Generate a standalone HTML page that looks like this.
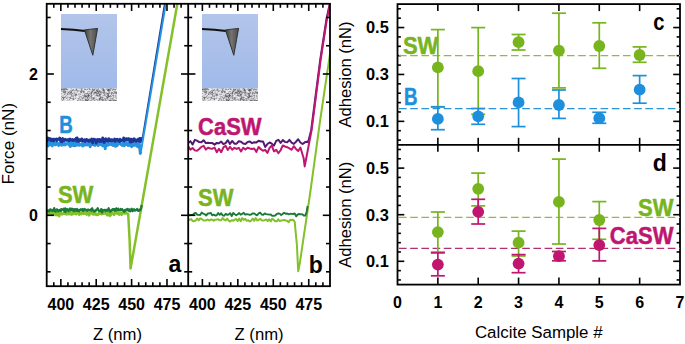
<!DOCTYPE html>
<html><head><meta charset="utf-8"><style>
html,body{margin:0;padding:0;background:#fff;}
body{width:685px;height:344px;position:relative;overflow:hidden;font-family:"Liberation Sans",sans-serif;}
</style></head><body>
<svg width="685" height="344" viewBox="0 0 685 344" style="position:absolute;left:0;top:0" font-family="Liberation Sans, sans-serif"><defs><linearGradient id="skyg" x1="0" y1="0" x2="0" y2="1"><stop offset="0" stop-color="#b3c5ea"/><stop offset="1" stop-color="#a0bae9"/></linearGradient><linearGradient id="tipg" x1="0" y1="0" x2="1" y2="0"><stop offset="0" stop-color="#3c3c3c"/><stop offset="0.45" stop-color="#76746f"/><stop offset="1" stop-color="#4a4a48"/></linearGradient><g id="tex"><rect x="0" y="0" width="1" height="1" fill="rgb(172,178,190)"/><rect x="1" y="0" width="1" height="1" fill="rgb(170,176,188)"/><rect x="2" y="0" width="1" height="1" fill="rgb(152,158,170)"/><rect x="3" y="0" width="1" height="1" fill="rgb(141,147,159)"/><rect x="4" y="0" width="1" height="1" fill="rgb(142,148,160)"/><rect x="5" y="0" width="1" height="1" fill="rgb(156,162,174)"/><rect x="6" y="0" width="1" height="1" fill="rgb(207,213,225)"/><rect x="7" y="0" width="1" height="1" fill="rgb(211,217,229)"/><rect x="8" y="0" width="1" height="1" fill="rgb(220,226,238)"/><rect x="9" y="0" width="1" height="1" fill="rgb(201,207,219)"/><rect x="10" y="0" width="1" height="1" fill="rgb(182,188,200)"/><rect x="11" y="0" width="1" height="1" fill="rgb(216,222,234)"/><rect x="12" y="0" width="1" height="1" fill="rgb(214,220,232)"/><rect x="13" y="0" width="1" height="1" fill="rgb(207,213,225)"/><rect x="14" y="0" width="1" height="1" fill="rgb(206,212,224)"/><rect x="15" y="0" width="1" height="1" fill="rgb(178,184,196)"/><rect x="16" y="0" width="1" height="1" fill="rgb(201,207,219)"/><rect x="17" y="0" width="1" height="1" fill="rgb(191,197,209)"/><rect x="18" y="0" width="1" height="1" fill="rgb(195,201,213)"/><rect x="19" y="0" width="1" height="1" fill="rgb(186,192,204)"/><rect x="20" y="0" width="1" height="1" fill="rgb(158,164,176)"/><rect x="21" y="0" width="1" height="1" fill="rgb(169,175,187)"/><rect x="22" y="0" width="1" height="1" fill="rgb(212,218,230)"/><rect x="23" y="0" width="1" height="1" fill="rgb(177,183,195)"/><rect x="24" y="0" width="1" height="1" fill="rgb(202,208,220)"/><rect x="25" y="0" width="1" height="1" fill="rgb(213,219,231)"/><rect x="26" y="0" width="1" height="1" fill="rgb(195,201,213)"/><rect x="27" y="0" width="1" height="1" fill="rgb(182,188,200)"/><rect x="28" y="0" width="1" height="1" fill="rgb(160,166,178)"/><rect x="29" y="0" width="1" height="1" fill="rgb(205,211,223)"/><rect x="30" y="0" width="1" height="1" fill="rgb(217,223,235)"/><rect x="31" y="0" width="1" height="1" fill="rgb(171,177,189)"/><rect x="32" y="0" width="1" height="1" fill="rgb(204,210,222)"/><rect x="33" y="0" width="1" height="1" fill="rgb(193,199,211)"/><rect x="34" y="0" width="1" height="1" fill="rgb(174,180,192)"/><rect x="35" y="0" width="1" height="1" fill="rgb(194,200,212)"/><rect x="36" y="0" width="1" height="1" fill="rgb(193,199,211)"/><rect x="37" y="0" width="1" height="1" fill="rgb(173,179,191)"/><rect x="38" y="0" width="1" height="1" fill="rgb(213,219,231)"/><rect x="39" y="0" width="1" height="1" fill="rgb(198,204,216)"/><rect x="40" y="0" width="1" height="1" fill="rgb(191,197,209)"/><rect x="41" y="0" width="1" height="1" fill="rgb(141,147,159)"/><rect x="42" y="0" width="1" height="1" fill="rgb(162,168,180)"/><rect x="43" y="0" width="1" height="1" fill="rgb(215,221,233)"/><rect x="44" y="0" width="1" height="1" fill="rgb(213,219,231)"/><rect x="45" y="0" width="1" height="1" fill="rgb(191,197,209)"/><rect x="46" y="0" width="1" height="1" fill="rgb(173,179,191)"/><rect x="47" y="0" width="1" height="1" fill="rgb(192,198,210)"/><rect x="48" y="0" width="1" height="1" fill="rgb(189,195,207)"/><rect x="49" y="0" width="1" height="1" fill="rgb(153,159,171)"/><rect x="50" y="0" width="1" height="1" fill="rgb(159,165,177)"/><rect x="51" y="0" width="1" height="1" fill="rgb(195,201,213)"/><rect x="52" y="0" width="1" height="1" fill="rgb(172,178,190)"/><rect x="53" y="0" width="1" height="1" fill="rgb(203,209,221)"/><rect x="54" y="0" width="1" height="1" fill="rgb(212,218,230)"/><rect x="55" y="0" width="1" height="1" fill="rgb(189,195,207)"/><rect x="0" y="1" width="1" height="1" fill="rgb(97,97,101)"/><rect x="1" y="1" width="1" height="1" fill="rgb(126,126,130)"/><rect x="2" y="1" width="1" height="1" fill="rgb(123,123,127)"/><rect x="3" y="1" width="1" height="1" fill="rgb(126,126,130)"/><rect x="4" y="1" width="1" height="1" fill="rgb(135,135,139)"/><rect x="5" y="1" width="1" height="1" fill="rgb(137,137,141)"/><rect x="6" y="1" width="1" height="1" fill="rgb(135,135,139)"/><rect x="7" y="1" width="1" height="1" fill="rgb(217,217,221)"/><rect x="8" y="1" width="1" height="1" fill="rgb(238,238,242)"/><rect x="9" y="1" width="1" height="1" fill="rgb(222,222,226)"/><rect x="10" y="1" width="1" height="1" fill="rgb(213,213,217)"/><rect x="11" y="1" width="1" height="1" fill="rgb(198,198,202)"/><rect x="12" y="1" width="1" height="1" fill="rgb(162,162,166)"/><rect x="13" y="1" width="1" height="1" fill="rgb(228,228,232)"/><rect x="14" y="1" width="1" height="1" fill="rgb(191,191,195)"/><rect x="15" y="1" width="1" height="1" fill="rgb(136,136,140)"/><rect x="16" y="1" width="1" height="1" fill="rgb(207,207,211)"/><rect x="17" y="1" width="1" height="1" fill="rgb(231,231,235)"/><rect x="18" y="1" width="1" height="1" fill="rgb(223,223,227)"/><rect x="19" y="1" width="1" height="1" fill="rgb(221,221,225)"/><rect x="20" y="1" width="1" height="1" fill="rgb(136,136,140)"/><rect x="21" y="1" width="1" height="1" fill="rgb(210,210,214)"/><rect x="22" y="1" width="1" height="1" fill="rgb(221,221,225)"/><rect x="23" y="1" width="1" height="1" fill="rgb(153,153,157)"/><rect x="24" y="1" width="1" height="1" fill="rgb(151,151,155)"/><rect x="25" y="1" width="1" height="1" fill="rgb(182,182,186)"/><rect x="26" y="1" width="1" height="1" fill="rgb(160,160,164)"/><rect x="27" y="1" width="1" height="1" fill="rgb(225,225,229)"/><rect x="28" y="1" width="1" height="1" fill="rgb(135,135,139)"/><rect x="29" y="1" width="1" height="1" fill="rgb(184,184,188)"/><rect x="30" y="1" width="1" height="1" fill="rgb(210,210,214)"/><rect x="31" y="1" width="1" height="1" fill="rgb(138,138,142)"/><rect x="32" y="1" width="1" height="1" fill="rgb(139,139,143)"/><rect x="33" y="1" width="1" height="1" fill="rgb(118,118,122)"/><rect x="34" y="1" width="1" height="1" fill="rgb(213,213,217)"/><rect x="35" y="1" width="1" height="1" fill="rgb(172,172,176)"/><rect x="36" y="1" width="1" height="1" fill="rgb(171,171,175)"/><rect x="37" y="1" width="1" height="1" fill="rgb(166,166,170)"/><rect x="38" y="1" width="1" height="1" fill="rgb(220,220,224)"/><rect x="39" y="1" width="1" height="1" fill="rgb(236,236,240)"/><rect x="40" y="1" width="1" height="1" fill="rgb(193,193,197)"/><rect x="41" y="1" width="1" height="1" fill="rgb(175,175,179)"/><rect x="42" y="1" width="1" height="1" fill="rgb(105,105,109)"/><rect x="43" y="1" width="1" height="1" fill="rgb(185,185,189)"/><rect x="44" y="1" width="1" height="1" fill="rgb(209,209,213)"/><rect x="45" y="1" width="1" height="1" fill="rgb(178,178,182)"/><rect x="46" y="1" width="1" height="1" fill="rgb(155,155,159)"/><rect x="47" y="1" width="1" height="1" fill="rgb(90,90,94)"/><rect x="48" y="1" width="1" height="1" fill="rgb(117,117,121)"/><rect x="49" y="1" width="1" height="1" fill="rgb(168,168,172)"/><rect x="50" y="1" width="1" height="1" fill="rgb(205,205,209)"/><rect x="51" y="1" width="1" height="1" fill="rgb(165,165,169)"/><rect x="52" y="1" width="1" height="1" fill="rgb(143,143,147)"/><rect x="53" y="1" width="1" height="1" fill="rgb(149,149,153)"/><rect x="54" y="1" width="1" height="1" fill="rgb(139,139,143)"/><rect x="55" y="1" width="1" height="1" fill="rgb(216,216,220)"/><rect x="0" y="2" width="1" height="1" fill="rgb(192,192,196)"/><rect x="1" y="2" width="1" height="1" fill="rgb(185,185,189)"/><rect x="2" y="2" width="1" height="1" fill="rgb(171,171,175)"/><rect x="3" y="2" width="1" height="1" fill="rgb(165,165,169)"/><rect x="4" y="2" width="1" height="1" fill="rgb(201,201,205)"/><rect x="5" y="2" width="1" height="1" fill="rgb(219,219,223)"/><rect x="6" y="2" width="1" height="1" fill="rgb(213,213,217)"/><rect x="7" y="2" width="1" height="1" fill="rgb(229,229,233)"/><rect x="8" y="2" width="1" height="1" fill="rgb(217,217,221)"/><rect x="9" y="2" width="1" height="1" fill="rgb(175,175,179)"/><rect x="10" y="2" width="1" height="1" fill="rgb(167,167,171)"/><rect x="11" y="2" width="1" height="1" fill="rgb(121,121,125)"/><rect x="12" y="2" width="1" height="1" fill="rgb(175,175,179)"/><rect x="13" y="2" width="1" height="1" fill="rgb(188,188,192)"/><rect x="14" y="2" width="1" height="1" fill="rgb(175,175,179)"/><rect x="15" y="2" width="1" height="1" fill="rgb(151,151,155)"/><rect x="16" y="2" width="1" height="1" fill="rgb(166,166,170)"/><rect x="17" y="2" width="1" height="1" fill="rgb(185,185,189)"/><rect x="18" y="2" width="1" height="1" fill="rgb(190,190,194)"/><rect x="19" y="2" width="1" height="1" fill="rgb(197,197,201)"/><rect x="20" y="2" width="1" height="1" fill="rgb(141,141,145)"/><rect x="21" y="2" width="1" height="1" fill="rgb(168,168,172)"/><rect x="22" y="2" width="1" height="1" fill="rgb(205,205,209)"/><rect x="23" y="2" width="1" height="1" fill="rgb(213,213,217)"/><rect x="24" y="2" width="1" height="1" fill="rgb(231,231,235)"/><rect x="25" y="2" width="1" height="1" fill="rgb(219,219,223)"/><rect x="26" y="2" width="1" height="1" fill="rgb(235,235,239)"/><rect x="27" y="2" width="1" height="1" fill="rgb(227,227,231)"/><rect x="28" y="2" width="1" height="1" fill="rgb(229,229,233)"/><rect x="29" y="2" width="1" height="1" fill="rgb(217,217,221)"/><rect x="30" y="2" width="1" height="1" fill="rgb(201,201,205)"/><rect x="31" y="2" width="1" height="1" fill="rgb(154,154,158)"/><rect x="32" y="2" width="1" height="1" fill="rgb(129,129,133)"/><rect x="33" y="2" width="1" height="1" fill="rgb(170,170,174)"/><rect x="34" y="2" width="1" height="1" fill="rgb(217,217,221)"/><rect x="35" y="2" width="1" height="1" fill="rgb(127,127,131)"/><rect x="36" y="2" width="1" height="1" fill="rgb(126,126,130)"/><rect x="37" y="2" width="1" height="1" fill="rgb(165,165,169)"/><rect x="38" y="2" width="1" height="1" fill="rgb(163,163,167)"/><rect x="39" y="2" width="1" height="1" fill="rgb(192,192,196)"/><rect x="40" y="2" width="1" height="1" fill="rgb(222,222,226)"/><rect x="41" y="2" width="1" height="1" fill="rgb(167,167,171)"/><rect x="42" y="2" width="1" height="1" fill="rgb(95,95,99)"/><rect x="43" y="2" width="1" height="1" fill="rgb(139,139,143)"/><rect x="44" y="2" width="1" height="1" fill="rgb(226,226,230)"/><rect x="45" y="2" width="1" height="1" fill="rgb(229,229,233)"/><rect x="46" y="2" width="1" height="1" fill="rgb(123,123,127)"/><rect x="47" y="2" width="1" height="1" fill="rgb(89,89,93)"/><rect x="48" y="2" width="1" height="1" fill="rgb(124,124,128)"/><rect x="49" y="2" width="1" height="1" fill="rgb(162,162,166)"/><rect x="50" y="2" width="1" height="1" fill="rgb(225,225,229)"/><rect x="51" y="2" width="1" height="1" fill="rgb(168,168,172)"/><rect x="52" y="2" width="1" height="1" fill="rgb(213,213,217)"/><rect x="53" y="2" width="1" height="1" fill="rgb(214,214,218)"/><rect x="54" y="2" width="1" height="1" fill="rgb(201,201,205)"/><rect x="55" y="2" width="1" height="1" fill="rgb(234,234,238)"/><rect x="0" y="3" width="1" height="1" fill="rgb(182,182,186)"/><rect x="1" y="3" width="1" height="1" fill="rgb(178,178,182)"/><rect x="2" y="3" width="1" height="1" fill="rgb(138,138,142)"/><rect x="3" y="3" width="1" height="1" fill="rgb(143,143,147)"/><rect x="4" y="3" width="1" height="1" fill="rgb(121,121,125)"/><rect x="5" y="3" width="1" height="1" fill="rgb(206,206,210)"/><rect x="6" y="3" width="1" height="1" fill="rgb(203,203,207)"/><rect x="7" y="3" width="1" height="1" fill="rgb(203,203,207)"/><rect x="8" y="3" width="1" height="1" fill="rgb(158,158,162)"/><rect x="9" y="3" width="1" height="1" fill="rgb(182,182,186)"/><rect x="10" y="3" width="1" height="1" fill="rgb(136,136,140)"/><rect x="11" y="3" width="1" height="1" fill="rgb(222,222,226)"/><rect x="12" y="3" width="1" height="1" fill="rgb(220,220,224)"/><rect x="13" y="3" width="1" height="1" fill="rgb(202,202,206)"/><rect x="14" y="3" width="1" height="1" fill="rgb(227,227,231)"/><rect x="15" y="3" width="1" height="1" fill="rgb(216,216,220)"/><rect x="16" y="3" width="1" height="1" fill="rgb(149,149,153)"/><rect x="17" y="3" width="1" height="1" fill="rgb(205,205,209)"/><rect x="18" y="3" width="1" height="1" fill="rgb(218,218,222)"/><rect x="19" y="3" width="1" height="1" fill="rgb(133,133,137)"/><rect x="20" y="3" width="1" height="1" fill="rgb(148,148,152)"/><rect x="21" y="3" width="1" height="1" fill="rgb(153,153,157)"/><rect x="22" y="3" width="1" height="1" fill="rgb(122,122,126)"/><rect x="23" y="3" width="1" height="1" fill="rgb(166,166,170)"/><rect x="24" y="3" width="1" height="1" fill="rgb(232,232,236)"/><rect x="25" y="3" width="1" height="1" fill="rgb(242,242,246)"/><rect x="26" y="3" width="1" height="1" fill="rgb(206,206,210)"/><rect x="27" y="3" width="1" height="1" fill="rgb(178,178,182)"/><rect x="28" y="3" width="1" height="1" fill="rgb(174,174,178)"/><rect x="29" y="3" width="1" height="1" fill="rgb(220,220,224)"/><rect x="30" y="3" width="1" height="1" fill="rgb(161,161,165)"/><rect x="31" y="3" width="1" height="1" fill="rgb(117,117,121)"/><rect x="32" y="3" width="1" height="1" fill="rgb(201,201,205)"/><rect x="33" y="3" width="1" height="1" fill="rgb(202,202,206)"/><rect x="34" y="3" width="1" height="1" fill="rgb(182,182,186)"/><rect x="35" y="3" width="1" height="1" fill="rgb(151,151,155)"/><rect x="36" y="3" width="1" height="1" fill="rgb(97,97,101)"/><rect x="37" y="3" width="1" height="1" fill="rgb(143,143,147)"/><rect x="38" y="3" width="1" height="1" fill="rgb(110,110,114)"/><rect x="39" y="3" width="1" height="1" fill="rgb(148,148,152)"/><rect x="40" y="3" width="1" height="1" fill="rgb(185,185,189)"/><rect x="41" y="3" width="1" height="1" fill="rgb(199,199,203)"/><rect x="42" y="3" width="1" height="1" fill="rgb(176,176,180)"/><rect x="43" y="3" width="1" height="1" fill="rgb(138,138,142)"/><rect x="44" y="3" width="1" height="1" fill="rgb(224,224,228)"/><rect x="45" y="3" width="1" height="1" fill="rgb(236,236,240)"/><rect x="46" y="3" width="1" height="1" fill="rgb(219,219,223)"/><rect x="47" y="3" width="1" height="1" fill="rgb(157,157,161)"/><rect x="48" y="3" width="1" height="1" fill="rgb(187,187,191)"/><rect x="49" y="3" width="1" height="1" fill="rgb(217,217,221)"/><rect x="50" y="3" width="1" height="1" fill="rgb(213,213,217)"/><rect x="51" y="3" width="1" height="1" fill="rgb(226,226,230)"/><rect x="52" y="3" width="1" height="1" fill="rgb(201,201,205)"/><rect x="53" y="3" width="1" height="1" fill="rgb(153,153,157)"/><rect x="54" y="3" width="1" height="1" fill="rgb(186,186,190)"/><rect x="55" y="3" width="1" height="1" fill="rgb(199,199,203)"/><rect x="0" y="4" width="1" height="1" fill="rgb(229,229,233)"/><rect x="1" y="4" width="1" height="1" fill="rgb(227,227,231)"/><rect x="2" y="4" width="1" height="1" fill="rgb(140,140,144)"/><rect x="3" y="4" width="1" height="1" fill="rgb(131,131,135)"/><rect x="4" y="4" width="1" height="1" fill="rgb(131,131,135)"/><rect x="5" y="4" width="1" height="1" fill="rgb(218,218,222)"/><rect x="6" y="4" width="1" height="1" fill="rgb(200,200,204)"/><rect x="7" y="4" width="1" height="1" fill="rgb(128,128,132)"/><rect x="8" y="4" width="1" height="1" fill="rgb(172,172,176)"/><rect x="9" y="4" width="1" height="1" fill="rgb(111,111,115)"/><rect x="10" y="4" width="1" height="1" fill="rgb(116,116,120)"/><rect x="11" y="4" width="1" height="1" fill="rgb(228,228,232)"/><rect x="12" y="4" width="1" height="1" fill="rgb(205,205,209)"/><rect x="13" y="4" width="1" height="1" fill="rgb(186,186,190)"/><rect x="14" y="4" width="1" height="1" fill="rgb(214,214,218)"/><rect x="15" y="4" width="1" height="1" fill="rgb(215,215,219)"/><rect x="16" y="4" width="1" height="1" fill="rgb(213,213,217)"/><rect x="17" y="4" width="1" height="1" fill="rgb(227,227,231)"/><rect x="18" y="4" width="1" height="1" fill="rgb(234,234,238)"/><rect x="19" y="4" width="1" height="1" fill="rgb(156,156,160)"/><rect x="20" y="4" width="1" height="1" fill="rgb(122,122,126)"/><rect x="21" y="4" width="1" height="1" fill="rgb(219,219,223)"/><rect x="22" y="4" width="1" height="1" fill="rgb(139,139,143)"/><rect x="23" y="4" width="1" height="1" fill="rgb(177,177,181)"/><rect x="24" y="4" width="1" height="1" fill="rgb(234,234,238)"/><rect x="25" y="4" width="1" height="1" fill="rgb(231,231,235)"/><rect x="26" y="4" width="1" height="1" fill="rgb(188,188,192)"/><rect x="27" y="4" width="1" height="1" fill="rgb(218,218,222)"/><rect x="28" y="4" width="1" height="1" fill="rgb(207,207,211)"/><rect x="29" y="4" width="1" height="1" fill="rgb(197,197,201)"/><rect x="30" y="4" width="1" height="1" fill="rgb(107,107,111)"/><rect x="31" y="4" width="1" height="1" fill="rgb(175,175,179)"/><rect x="32" y="4" width="1" height="1" fill="rgb(202,202,206)"/><rect x="33" y="4" width="1" height="1" fill="rgb(118,118,122)"/><rect x="34" y="4" width="1" height="1" fill="rgb(96,96,100)"/><rect x="35" y="4" width="1" height="1" fill="rgb(134,134,138)"/><rect x="36" y="4" width="1" height="1" fill="rgb(192,192,196)"/><rect x="37" y="4" width="1" height="1" fill="rgb(114,114,118)"/><rect x="38" y="4" width="1" height="1" fill="rgb(167,167,171)"/><rect x="39" y="4" width="1" height="1" fill="rgb(136,136,140)"/><rect x="40" y="4" width="1" height="1" fill="rgb(150,150,154)"/><rect x="41" y="4" width="1" height="1" fill="rgb(165,165,169)"/><rect x="42" y="4" width="1" height="1" fill="rgb(135,135,139)"/><rect x="43" y="4" width="1" height="1" fill="rgb(128,128,132)"/><rect x="44" y="4" width="1" height="1" fill="rgb(189,189,193)"/><rect x="45" y="4" width="1" height="1" fill="rgb(201,201,205)"/><rect x="46" y="4" width="1" height="1" fill="rgb(224,224,228)"/><rect x="47" y="4" width="1" height="1" fill="rgb(189,189,193)"/><rect x="48" y="4" width="1" height="1" fill="rgb(141,141,145)"/><rect x="49" y="4" width="1" height="1" fill="rgb(212,212,216)"/><rect x="50" y="4" width="1" height="1" fill="rgb(156,156,160)"/><rect x="51" y="4" width="1" height="1" fill="rgb(148,148,152)"/><rect x="52" y="4" width="1" height="1" fill="rgb(204,204,208)"/><rect x="53" y="4" width="1" height="1" fill="rgb(138,138,142)"/><rect x="54" y="4" width="1" height="1" fill="rgb(134,134,138)"/><rect x="55" y="4" width="1" height="1" fill="rgb(115,115,119)"/><rect x="0" y="5" width="1" height="1" fill="rgb(167,167,171)"/><rect x="1" y="5" width="1" height="1" fill="rgb(217,217,221)"/><rect x="2" y="5" width="1" height="1" fill="rgb(218,218,222)"/><rect x="3" y="5" width="1" height="1" fill="rgb(187,187,191)"/><rect x="4" y="5" width="1" height="1" fill="rgb(172,172,176)"/><rect x="5" y="5" width="1" height="1" fill="rgb(212,212,216)"/><rect x="6" y="5" width="1" height="1" fill="rgb(142,142,146)"/><rect x="7" y="5" width="1" height="1" fill="rgb(186,186,190)"/><rect x="8" y="5" width="1" height="1" fill="rgb(147,147,151)"/><rect x="9" y="5" width="1" height="1" fill="rgb(181,181,185)"/><rect x="10" y="5" width="1" height="1" fill="rgb(164,164,168)"/><rect x="11" y="5" width="1" height="1" fill="rgb(146,146,150)"/><rect x="12" y="5" width="1" height="1" fill="rgb(191,191,195)"/><rect x="13" y="5" width="1" height="1" fill="rgb(174,174,178)"/><rect x="14" y="5" width="1" height="1" fill="rgb(194,194,198)"/><rect x="15" y="5" width="1" height="1" fill="rgb(197,197,201)"/><rect x="16" y="5" width="1" height="1" fill="rgb(232,232,236)"/><rect x="17" y="5" width="1" height="1" fill="rgb(203,203,207)"/><rect x="18" y="5" width="1" height="1" fill="rgb(199,199,203)"/><rect x="19" y="5" width="1" height="1" fill="rgb(205,205,209)"/><rect x="20" y="5" width="1" height="1" fill="rgb(221,221,225)"/><rect x="21" y="5" width="1" height="1" fill="rgb(221,221,225)"/><rect x="22" y="5" width="1" height="1" fill="rgb(217,217,221)"/><rect x="23" y="5" width="1" height="1" fill="rgb(200,200,204)"/><rect x="24" y="5" width="1" height="1" fill="rgb(158,158,162)"/><rect x="25" y="5" width="1" height="1" fill="rgb(140,140,144)"/><rect x="26" y="5" width="1" height="1" fill="rgb(131,131,135)"/><rect x="27" y="5" width="1" height="1" fill="rgb(186,186,190)"/><rect x="28" y="5" width="1" height="1" fill="rgb(148,148,152)"/><rect x="29" y="5" width="1" height="1" fill="rgb(161,161,165)"/><rect x="30" y="5" width="1" height="1" fill="rgb(111,111,115)"/><rect x="31" y="5" width="1" height="1" fill="rgb(214,214,218)"/><rect x="32" y="5" width="1" height="1" fill="rgb(160,160,164)"/><rect x="33" y="5" width="1" height="1" fill="rgb(160,160,164)"/><rect x="34" y="5" width="1" height="1" fill="rgb(168,168,172)"/><rect x="35" y="5" width="1" height="1" fill="rgb(139,139,143)"/><rect x="36" y="5" width="1" height="1" fill="rgb(130,130,134)"/><rect x="37" y="5" width="1" height="1" fill="rgb(132,132,136)"/><rect x="38" y="5" width="1" height="1" fill="rgb(183,183,187)"/><rect x="39" y="5" width="1" height="1" fill="rgb(181,181,185)"/><rect x="40" y="5" width="1" height="1" fill="rgb(174,174,178)"/><rect x="41" y="5" width="1" height="1" fill="rgb(225,225,229)"/><rect x="42" y="5" width="1" height="1" fill="rgb(149,149,153)"/><rect x="43" y="5" width="1" height="1" fill="rgb(161,161,165)"/><rect x="44" y="5" width="1" height="1" fill="rgb(187,187,191)"/><rect x="45" y="5" width="1" height="1" fill="rgb(163,163,167)"/><rect x="46" y="5" width="1" height="1" fill="rgb(112,112,116)"/><rect x="47" y="5" width="1" height="1" fill="rgb(126,126,130)"/><rect x="48" y="5" width="1" height="1" fill="rgb(169,169,173)"/><rect x="49" y="5" width="1" height="1" fill="rgb(213,213,217)"/><rect x="50" y="5" width="1" height="1" fill="rgb(123,123,127)"/><rect x="51" y="5" width="1" height="1" fill="rgb(182,182,186)"/><rect x="52" y="5" width="1" height="1" fill="rgb(144,144,148)"/><rect x="53" y="5" width="1" height="1" fill="rgb(182,182,186)"/><rect x="54" y="5" width="1" height="1" fill="rgb(156,156,160)"/><rect x="55" y="5" width="1" height="1" fill="rgb(131,131,135)"/><rect x="0" y="6" width="1" height="1" fill="rgb(224,224,228)"/><rect x="1" y="6" width="1" height="1" fill="rgb(236,236,240)"/><rect x="2" y="6" width="1" height="1" fill="rgb(213,213,217)"/><rect x="3" y="6" width="1" height="1" fill="rgb(152,152,156)"/><rect x="4" y="6" width="1" height="1" fill="rgb(216,216,220)"/><rect x="5" y="6" width="1" height="1" fill="rgb(222,222,226)"/><rect x="6" y="6" width="1" height="1" fill="rgb(137,137,141)"/><rect x="7" y="6" width="1" height="1" fill="rgb(185,185,189)"/><rect x="8" y="6" width="1" height="1" fill="rgb(193,193,197)"/><rect x="9" y="6" width="1" height="1" fill="rgb(164,164,168)"/><rect x="10" y="6" width="1" height="1" fill="rgb(140,140,144)"/><rect x="11" y="6" width="1" height="1" fill="rgb(206,206,210)"/><rect x="12" y="6" width="1" height="1" fill="rgb(217,217,221)"/><rect x="13" y="6" width="1" height="1" fill="rgb(187,187,191)"/><rect x="14" y="6" width="1" height="1" fill="rgb(119,119,123)"/><rect x="15" y="6" width="1" height="1" fill="rgb(124,124,128)"/><rect x="16" y="6" width="1" height="1" fill="rgb(218,218,222)"/><rect x="17" y="6" width="1" height="1" fill="rgb(183,183,187)"/><rect x="18" y="6" width="1" height="1" fill="rgb(193,193,197)"/><rect x="19" y="6" width="1" height="1" fill="rgb(165,165,169)"/><rect x="20" y="6" width="1" height="1" fill="rgb(221,221,225)"/><rect x="21" y="6" width="1" height="1" fill="rgb(225,225,229)"/><rect x="22" y="6" width="1" height="1" fill="rgb(230,230,234)"/><rect x="23" y="6" width="1" height="1" fill="rgb(144,144,148)"/><rect x="24" y="6" width="1" height="1" fill="rgb(204,204,208)"/><rect x="25" y="6" width="1" height="1" fill="rgb(202,202,206)"/><rect x="26" y="6" width="1" height="1" fill="rgb(190,190,194)"/><rect x="27" y="6" width="1" height="1" fill="rgb(111,111,115)"/><rect x="28" y="6" width="1" height="1" fill="rgb(209,209,213)"/><rect x="29" y="6" width="1" height="1" fill="rgb(194,194,198)"/><rect x="30" y="6" width="1" height="1" fill="rgb(157,157,161)"/><rect x="31" y="6" width="1" height="1" fill="rgb(216,216,220)"/><rect x="32" y="6" width="1" height="1" fill="rgb(188,188,192)"/><rect x="33" y="6" width="1" height="1" fill="rgb(201,201,205)"/><rect x="34" y="6" width="1" height="1" fill="rgb(226,226,230)"/><rect x="35" y="6" width="1" height="1" fill="rgb(161,161,165)"/><rect x="36" y="6" width="1" height="1" fill="rgb(181,181,185)"/><rect x="37" y="6" width="1" height="1" fill="rgb(196,196,200)"/><rect x="38" y="6" width="1" height="1" fill="rgb(105,105,109)"/><rect x="39" y="6" width="1" height="1" fill="rgb(130,130,134)"/><rect x="40" y="6" width="1" height="1" fill="rgb(199,199,203)"/><rect x="41" y="6" width="1" height="1" fill="rgb(220,220,224)"/><rect x="42" y="6" width="1" height="1" fill="rgb(226,226,230)"/><rect x="43" y="6" width="1" height="1" fill="rgb(155,155,159)"/><rect x="44" y="6" width="1" height="1" fill="rgb(205,205,209)"/><rect x="45" y="6" width="1" height="1" fill="rgb(185,185,189)"/><rect x="46" y="6" width="1" height="1" fill="rgb(141,141,145)"/><rect x="47" y="6" width="1" height="1" fill="rgb(129,129,133)"/><rect x="48" y="6" width="1" height="1" fill="rgb(220,220,224)"/><rect x="49" y="6" width="1" height="1" fill="rgb(228,228,232)"/><rect x="50" y="6" width="1" height="1" fill="rgb(162,162,166)"/><rect x="51" y="6" width="1" height="1" fill="rgb(218,218,222)"/><rect x="52" y="6" width="1" height="1" fill="rgb(198,198,202)"/><rect x="53" y="6" width="1" height="1" fill="rgb(230,230,234)"/><rect x="54" y="6" width="1" height="1" fill="rgb(221,221,225)"/><rect x="55" y="6" width="1" height="1" fill="rgb(211,211,215)"/><rect x="0" y="7" width="1" height="1" fill="rgb(220,220,224)"/><rect x="1" y="7" width="1" height="1" fill="rgb(198,198,202)"/><rect x="2" y="7" width="1" height="1" fill="rgb(203,203,207)"/><rect x="3" y="7" width="1" height="1" fill="rgb(228,228,232)"/><rect x="4" y="7" width="1" height="1" fill="rgb(208,208,212)"/><rect x="5" y="7" width="1" height="1" fill="rgb(174,174,178)"/><rect x="6" y="7" width="1" height="1" fill="rgb(225,225,229)"/><rect x="7" y="7" width="1" height="1" fill="rgb(223,223,227)"/><rect x="8" y="7" width="1" height="1" fill="rgb(220,220,224)"/><rect x="9" y="7" width="1" height="1" fill="rgb(230,230,234)"/><rect x="10" y="7" width="1" height="1" fill="rgb(151,151,155)"/><rect x="11" y="7" width="1" height="1" fill="rgb(187,187,191)"/><rect x="12" y="7" width="1" height="1" fill="rgb(175,175,179)"/><rect x="13" y="7" width="1" height="1" fill="rgb(177,177,181)"/><rect x="14" y="7" width="1" height="1" fill="rgb(136,136,140)"/><rect x="15" y="7" width="1" height="1" fill="rgb(163,163,167)"/><rect x="16" y="7" width="1" height="1" fill="rgb(212,212,216)"/><rect x="17" y="7" width="1" height="1" fill="rgb(228,228,232)"/><rect x="18" y="7" width="1" height="1" fill="rgb(203,203,207)"/><rect x="19" y="7" width="1" height="1" fill="rgb(232,232,236)"/><rect x="20" y="7" width="1" height="1" fill="rgb(231,231,235)"/><rect x="21" y="7" width="1" height="1" fill="rgb(173,173,177)"/><rect x="22" y="7" width="1" height="1" fill="rgb(182,182,186)"/><rect x="23" y="7" width="1" height="1" fill="rgb(128,128,132)"/><rect x="24" y="7" width="1" height="1" fill="rgb(131,131,135)"/><rect x="25" y="7" width="1" height="1" fill="rgb(168,168,172)"/><rect x="26" y="7" width="1" height="1" fill="rgb(135,135,139)"/><rect x="27" y="7" width="1" height="1" fill="rgb(89,89,93)"/><rect x="28" y="7" width="1" height="1" fill="rgb(121,121,125)"/><rect x="29" y="7" width="1" height="1" fill="rgb(200,200,204)"/><rect x="30" y="7" width="1" height="1" fill="rgb(133,133,137)"/><rect x="31" y="7" width="1" height="1" fill="rgb(201,201,205)"/><rect x="32" y="7" width="1" height="1" fill="rgb(230,230,234)"/><rect x="33" y="7" width="1" height="1" fill="rgb(213,213,217)"/><rect x="34" y="7" width="1" height="1" fill="rgb(189,189,193)"/><rect x="35" y="7" width="1" height="1" fill="rgb(133,133,137)"/><rect x="36" y="7" width="1" height="1" fill="rgb(122,122,126)"/><rect x="37" y="7" width="1" height="1" fill="rgb(160,160,164)"/><rect x="38" y="7" width="1" height="1" fill="rgb(122,122,126)"/><rect x="39" y="7" width="1" height="1" fill="rgb(169,169,173)"/><rect x="40" y="7" width="1" height="1" fill="rgb(228,228,232)"/><rect x="41" y="7" width="1" height="1" fill="rgb(211,211,215)"/><rect x="42" y="7" width="1" height="1" fill="rgb(177,177,181)"/><rect x="43" y="7" width="1" height="1" fill="rgb(155,155,159)"/><rect x="44" y="7" width="1" height="1" fill="rgb(169,169,173)"/><rect x="45" y="7" width="1" height="1" fill="rgb(225,225,229)"/><rect x="46" y="7" width="1" height="1" fill="rgb(146,146,150)"/><rect x="47" y="7" width="1" height="1" fill="rgb(96,96,100)"/><rect x="48" y="7" width="1" height="1" fill="rgb(198,198,202)"/><rect x="49" y="7" width="1" height="1" fill="rgb(165,165,169)"/><rect x="50" y="7" width="1" height="1" fill="rgb(209,209,213)"/><rect x="51" y="7" width="1" height="1" fill="rgb(159,159,163)"/><rect x="52" y="7" width="1" height="1" fill="rgb(144,144,148)"/><rect x="53" y="7" width="1" height="1" fill="rgb(218,218,222)"/><rect x="54" y="7" width="1" height="1" fill="rgb(167,167,171)"/><rect x="55" y="7" width="1" height="1" fill="rgb(203,203,207)"/><rect x="0" y="8" width="1" height="1" fill="rgb(167,167,171)"/><rect x="1" y="8" width="1" height="1" fill="rgb(207,207,211)"/><rect x="2" y="8" width="1" height="1" fill="rgb(201,201,205)"/><rect x="3" y="8" width="1" height="1" fill="rgb(216,216,220)"/><rect x="4" y="8" width="1" height="1" fill="rgb(156,156,160)"/><rect x="5" y="8" width="1" height="1" fill="rgb(214,214,218)"/><rect x="6" y="8" width="1" height="1" fill="rgb(213,213,217)"/><rect x="7" y="8" width="1" height="1" fill="rgb(213,213,217)"/><rect x="8" y="8" width="1" height="1" fill="rgb(218,218,222)"/><rect x="9" y="8" width="1" height="1" fill="rgb(216,216,220)"/><rect x="10" y="8" width="1" height="1" fill="rgb(165,165,169)"/><rect x="11" y="8" width="1" height="1" fill="rgb(174,174,178)"/><rect x="12" y="8" width="1" height="1" fill="rgb(162,162,166)"/><rect x="13" y="8" width="1" height="1" fill="rgb(221,221,225)"/><rect x="14" y="8" width="1" height="1" fill="rgb(195,195,199)"/><rect x="15" y="8" width="1" height="1" fill="rgb(232,232,236)"/><rect x="16" y="8" width="1" height="1" fill="rgb(239,239,243)"/><rect x="17" y="8" width="1" height="1" fill="rgb(216,216,220)"/><rect x="18" y="8" width="1" height="1" fill="rgb(185,185,189)"/><rect x="19" y="8" width="1" height="1" fill="rgb(171,171,175)"/><rect x="20" y="8" width="1" height="1" fill="rgb(190,190,194)"/><rect x="21" y="8" width="1" height="1" fill="rgb(223,223,227)"/><rect x="22" y="8" width="1" height="1" fill="rgb(191,191,195)"/><rect x="23" y="8" width="1" height="1" fill="rgb(133,133,137)"/><rect x="24" y="8" width="1" height="1" fill="rgb(94,94,98)"/><rect x="25" y="8" width="1" height="1" fill="rgb(106,106,110)"/><rect x="26" y="8" width="1" height="1" fill="rgb(151,151,155)"/><rect x="27" y="8" width="1" height="1" fill="rgb(104,104,108)"/><rect x="28" y="8" width="1" height="1" fill="rgb(193,193,197)"/><rect x="29" y="8" width="1" height="1" fill="rgb(164,164,168)"/><rect x="30" y="8" width="1" height="1" fill="rgb(147,147,151)"/><rect x="31" y="8" width="1" height="1" fill="rgb(230,230,234)"/><rect x="32" y="8" width="1" height="1" fill="rgb(234,234,238)"/><rect x="33" y="8" width="1" height="1" fill="rgb(216,216,220)"/><rect x="34" y="8" width="1" height="1" fill="rgb(220,220,224)"/><rect x="35" y="8" width="1" height="1" fill="rgb(217,217,221)"/><rect x="36" y="8" width="1" height="1" fill="rgb(180,180,184)"/><rect x="37" y="8" width="1" height="1" fill="rgb(172,172,176)"/><rect x="38" y="8" width="1" height="1" fill="rgb(179,179,183)"/><rect x="39" y="8" width="1" height="1" fill="rgb(155,155,159)"/><rect x="40" y="8" width="1" height="1" fill="rgb(201,201,205)"/><rect x="41" y="8" width="1" height="1" fill="rgb(203,203,207)"/><rect x="42" y="8" width="1" height="1" fill="rgb(222,222,226)"/><rect x="43" y="8" width="1" height="1" fill="rgb(221,221,225)"/><rect x="44" y="8" width="1" height="1" fill="rgb(196,196,200)"/><rect x="45" y="8" width="1" height="1" fill="rgb(147,147,151)"/><rect x="46" y="8" width="1" height="1" fill="rgb(154,154,158)"/><rect x="47" y="8" width="1" height="1" fill="rgb(97,97,101)"/><rect x="48" y="8" width="1" height="1" fill="rgb(111,111,115)"/><rect x="49" y="8" width="1" height="1" fill="rgb(145,145,149)"/><rect x="50" y="8" width="1" height="1" fill="rgb(166,166,170)"/><rect x="51" y="8" width="1" height="1" fill="rgb(226,226,230)"/><rect x="52" y="8" width="1" height="1" fill="rgb(171,171,175)"/><rect x="53" y="8" width="1" height="1" fill="rgb(225,225,229)"/><rect x="54" y="8" width="1" height="1" fill="rgb(165,165,169)"/><rect x="55" y="8" width="1" height="1" fill="rgb(198,198,202)"/><rect x="0" y="9" width="1" height="1" fill="rgb(209,209,213)"/><rect x="1" y="9" width="1" height="1" fill="rgb(128,128,132)"/><rect x="2" y="9" width="1" height="1" fill="rgb(131,131,135)"/><rect x="3" y="9" width="1" height="1" fill="rgb(128,128,132)"/><rect x="4" y="9" width="1" height="1" fill="rgb(172,172,176)"/><rect x="5" y="9" width="1" height="1" fill="rgb(198,198,202)"/><rect x="6" y="9" width="1" height="1" fill="rgb(174,174,178)"/><rect x="7" y="9" width="1" height="1" fill="rgb(200,200,204)"/><rect x="8" y="9" width="1" height="1" fill="rgb(161,161,165)"/><rect x="9" y="9" width="1" height="1" fill="rgb(123,123,127)"/><rect x="10" y="9" width="1" height="1" fill="rgb(219,219,223)"/><rect x="11" y="9" width="1" height="1" fill="rgb(216,216,220)"/><rect x="12" y="9" width="1" height="1" fill="rgb(198,198,202)"/><rect x="13" y="9" width="1" height="1" fill="rgb(231,231,235)"/><rect x="14" y="9" width="1" height="1" fill="rgb(211,211,215)"/><rect x="15" y="9" width="1" height="1" fill="rgb(213,213,217)"/><rect x="16" y="9" width="1" height="1" fill="rgb(233,233,237)"/><rect x="17" y="9" width="1" height="1" fill="rgb(230,230,234)"/><rect x="18" y="9" width="1" height="1" fill="rgb(177,177,181)"/><rect x="19" y="9" width="1" height="1" fill="rgb(208,208,212)"/><rect x="20" y="9" width="1" height="1" fill="rgb(169,169,173)"/><rect x="21" y="9" width="1" height="1" fill="rgb(186,186,190)"/><rect x="22" y="9" width="1" height="1" fill="rgb(137,137,141)"/><rect x="23" y="9" width="1" height="1" fill="rgb(193,193,197)"/><rect x="24" y="9" width="1" height="1" fill="rgb(174,174,178)"/><rect x="25" y="9" width="1" height="1" fill="rgb(191,191,195)"/><rect x="26" y="9" width="1" height="1" fill="rgb(120,120,124)"/><rect x="27" y="9" width="1" height="1" fill="rgb(193,193,197)"/><rect x="28" y="9" width="1" height="1" fill="rgb(172,172,176)"/><rect x="29" y="9" width="1" height="1" fill="rgb(192,192,196)"/><rect x="30" y="9" width="1" height="1" fill="rgb(156,156,160)"/><rect x="31" y="9" width="1" height="1" fill="rgb(171,171,175)"/><rect x="32" y="9" width="1" height="1" fill="rgb(152,152,156)"/><rect x="33" y="9" width="1" height="1" fill="rgb(170,170,174)"/><rect x="34" y="9" width="1" height="1" fill="rgb(206,206,210)"/><rect x="35" y="9" width="1" height="1" fill="rgb(216,216,220)"/><rect x="36" y="9" width="1" height="1" fill="rgb(232,232,236)"/><rect x="37" y="9" width="1" height="1" fill="rgb(230,230,234)"/><rect x="38" y="9" width="1" height="1" fill="rgb(209,209,213)"/><rect x="39" y="9" width="1" height="1" fill="rgb(113,113,117)"/><rect x="40" y="9" width="1" height="1" fill="rgb(147,147,151)"/><rect x="41" y="9" width="1" height="1" fill="rgb(139,139,143)"/><rect x="42" y="9" width="1" height="1" fill="rgb(187,187,191)"/><rect x="43" y="9" width="1" height="1" fill="rgb(226,226,230)"/><rect x="44" y="9" width="1" height="1" fill="rgb(230,230,234)"/><rect x="45" y="9" width="1" height="1" fill="rgb(167,167,171)"/><rect x="46" y="9" width="1" height="1" fill="rgb(97,97,101)"/><rect x="47" y="9" width="1" height="1" fill="rgb(137,137,141)"/><rect x="48" y="9" width="1" height="1" fill="rgb(217,217,221)"/><rect x="49" y="9" width="1" height="1" fill="rgb(200,200,204)"/><rect x="50" y="9" width="1" height="1" fill="rgb(220,220,224)"/><rect x="51" y="9" width="1" height="1" fill="rgb(211,211,215)"/><rect x="52" y="9" width="1" height="1" fill="rgb(179,179,183)"/><rect x="53" y="9" width="1" height="1" fill="rgb(212,212,216)"/><rect x="54" y="9" width="1" height="1" fill="rgb(194,194,198)"/><rect x="55" y="9" width="1" height="1" fill="rgb(208,208,212)"/><rect x="0" y="10" width="1" height="1" fill="rgb(181,181,185)"/><rect x="1" y="10" width="1" height="1" fill="rgb(212,212,216)"/><rect x="2" y="10" width="1" height="1" fill="rgb(110,110,114)"/><rect x="3" y="10" width="1" height="1" fill="rgb(213,213,217)"/><rect x="4" y="10" width="1" height="1" fill="rgb(230,230,234)"/><rect x="5" y="10" width="1" height="1" fill="rgb(153,153,157)"/><rect x="6" y="10" width="1" height="1" fill="rgb(207,207,211)"/><rect x="7" y="10" width="1" height="1" fill="rgb(235,235,239)"/><rect x="8" y="10" width="1" height="1" fill="rgb(206,206,210)"/><rect x="9" y="10" width="1" height="1" fill="rgb(143,143,147)"/><rect x="10" y="10" width="1" height="1" fill="rgb(165,165,169)"/><rect x="11" y="10" width="1" height="1" fill="rgb(165,165,169)"/><rect x="12" y="10" width="1" height="1" fill="rgb(138,138,142)"/><rect x="13" y="10" width="1" height="1" fill="rgb(188,188,192)"/><rect x="14" y="10" width="1" height="1" fill="rgb(159,159,163)"/><rect x="15" y="10" width="1" height="1" fill="rgb(222,222,226)"/><rect x="16" y="10" width="1" height="1" fill="rgb(207,207,211)"/><rect x="17" y="10" width="1" height="1" fill="rgb(156,156,160)"/><rect x="18" y="10" width="1" height="1" fill="rgb(181,181,185)"/><rect x="19" y="10" width="1" height="1" fill="rgb(215,215,219)"/><rect x="20" y="10" width="1" height="1" fill="rgb(203,203,207)"/><rect x="21" y="10" width="1" height="1" fill="rgb(139,139,143)"/><rect x="22" y="10" width="1" height="1" fill="rgb(182,182,186)"/><rect x="23" y="10" width="1" height="1" fill="rgb(203,203,207)"/><rect x="24" y="10" width="1" height="1" fill="rgb(175,175,179)"/><rect x="25" y="10" width="1" height="1" fill="rgb(211,211,215)"/><rect x="26" y="10" width="1" height="1" fill="rgb(152,152,156)"/><rect x="27" y="10" width="1" height="1" fill="rgb(187,187,191)"/><rect x="28" y="10" width="1" height="1" fill="rgb(191,191,195)"/><rect x="29" y="10" width="1" height="1" fill="rgb(204,204,208)"/><rect x="30" y="10" width="1" height="1" fill="rgb(147,147,151)"/><rect x="31" y="10" width="1" height="1" fill="rgb(197,197,201)"/><rect x="32" y="10" width="1" height="1" fill="rgb(118,118,122)"/><rect x="33" y="10" width="1" height="1" fill="rgb(155,155,159)"/><rect x="34" y="10" width="1" height="1" fill="rgb(219,219,223)"/><rect x="35" y="10" width="1" height="1" fill="rgb(225,225,229)"/><rect x="36" y="10" width="1" height="1" fill="rgb(223,223,227)"/><rect x="37" y="10" width="1" height="1" fill="rgb(200,200,204)"/><rect x="38" y="10" width="1" height="1" fill="rgb(112,112,116)"/><rect x="39" y="10" width="1" height="1" fill="rgb(118,118,122)"/><rect x="40" y="10" width="1" height="1" fill="rgb(182,182,186)"/><rect x="41" y="10" width="1" height="1" fill="rgb(178,178,182)"/><rect x="42" y="10" width="1" height="1" fill="rgb(221,221,225)"/><rect x="43" y="10" width="1" height="1" fill="rgb(165,165,169)"/><rect x="44" y="10" width="1" height="1" fill="rgb(163,163,167)"/><rect x="45" y="10" width="1" height="1" fill="rgb(163,163,167)"/><rect x="46" y="10" width="1" height="1" fill="rgb(163,163,167)"/><rect x="47" y="10" width="1" height="1" fill="rgb(221,221,225)"/><rect x="48" y="10" width="1" height="1" fill="rgb(199,199,203)"/><rect x="49" y="10" width="1" height="1" fill="rgb(185,185,189)"/><rect x="50" y="10" width="1" height="1" fill="rgb(176,176,180)"/><rect x="51" y="10" width="1" height="1" fill="rgb(142,142,146)"/><rect x="52" y="10" width="1" height="1" fill="rgb(204,204,208)"/><rect x="53" y="10" width="1" height="1" fill="rgb(222,222,226)"/><rect x="54" y="10" width="1" height="1" fill="rgb(210,210,214)"/><rect x="55" y="10" width="1" height="1" fill="rgb(178,178,182)"/><rect x="0" y="11" width="1" height="1" fill="rgb(189,189,193)"/><rect x="1" y="11" width="1" height="1" fill="rgb(194,194,198)"/><rect x="2" y="11" width="1" height="1" fill="rgb(156,156,160)"/><rect x="3" y="11" width="1" height="1" fill="rgb(209,209,213)"/><rect x="4" y="11" width="1" height="1" fill="rgb(220,220,224)"/><rect x="5" y="11" width="1" height="1" fill="rgb(233,233,237)"/><rect x="6" y="11" width="1" height="1" fill="rgb(202,202,206)"/><rect x="7" y="11" width="1" height="1" fill="rgb(221,221,225)"/><rect x="8" y="11" width="1" height="1" fill="rgb(152,152,156)"/><rect x="9" y="11" width="1" height="1" fill="rgb(228,228,232)"/><rect x="10" y="11" width="1" height="1" fill="rgb(234,234,238)"/><rect x="11" y="11" width="1" height="1" fill="rgb(186,186,190)"/><rect x="12" y="11" width="1" height="1" fill="rgb(127,127,131)"/><rect x="13" y="11" width="1" height="1" fill="rgb(215,215,219)"/><rect x="14" y="11" width="1" height="1" fill="rgb(236,236,240)"/><rect x="15" y="11" width="1" height="1" fill="rgb(239,239,243)"/><rect x="16" y="11" width="1" height="1" fill="rgb(232,232,236)"/><rect x="17" y="11" width="1" height="1" fill="rgb(174,174,178)"/><rect x="18" y="11" width="1" height="1" fill="rgb(196,196,200)"/><rect x="19" y="11" width="1" height="1" fill="rgb(161,161,165)"/><rect x="20" y="11" width="1" height="1" fill="rgb(213,213,217)"/><rect x="21" y="11" width="1" height="1" fill="rgb(187,187,191)"/><rect x="22" y="11" width="1" height="1" fill="rgb(228,228,232)"/><rect x="23" y="11" width="1" height="1" fill="rgb(205,205,209)"/><rect x="24" y="11" width="1" height="1" fill="rgb(119,119,123)"/><rect x="25" y="11" width="1" height="1" fill="rgb(152,152,156)"/><rect x="26" y="11" width="1" height="1" fill="rgb(168,168,172)"/><rect x="27" y="11" width="1" height="1" fill="rgb(129,129,133)"/><rect x="28" y="11" width="1" height="1" fill="rgb(207,207,211)"/><rect x="29" y="11" width="1" height="1" fill="rgb(227,227,231)"/><rect x="30" y="11" width="1" height="1" fill="rgb(192,192,196)"/><rect x="31" y="11" width="1" height="1" fill="rgb(175,175,179)"/><rect x="32" y="11" width="1" height="1" fill="rgb(146,146,150)"/><rect x="33" y="11" width="1" height="1" fill="rgb(189,189,193)"/><rect x="34" y="11" width="1" height="1" fill="rgb(190,190,194)"/><rect x="35" y="11" width="1" height="1" fill="rgb(153,153,157)"/><rect x="36" y="11" width="1" height="1" fill="rgb(176,176,180)"/><rect x="37" y="11" width="1" height="1" fill="rgb(198,198,202)"/><rect x="38" y="11" width="1" height="1" fill="rgb(112,112,116)"/><rect x="39" y="11" width="1" height="1" fill="rgb(157,157,161)"/><rect x="40" y="11" width="1" height="1" fill="rgb(135,135,139)"/><rect x="41" y="11" width="1" height="1" fill="rgb(129,129,133)"/><rect x="42" y="11" width="1" height="1" fill="rgb(161,161,165)"/><rect x="43" y="11" width="1" height="1" fill="rgb(196,196,200)"/><rect x="44" y="11" width="1" height="1" fill="rgb(159,159,163)"/><rect x="45" y="11" width="1" height="1" fill="rgb(212,212,216)"/><rect x="46" y="11" width="1" height="1" fill="rgb(179,179,183)"/><rect x="47" y="11" width="1" height="1" fill="rgb(193,193,197)"/><rect x="48" y="11" width="1" height="1" fill="rgb(199,199,203)"/><rect x="49" y="11" width="1" height="1" fill="rgb(181,181,185)"/><rect x="50" y="11" width="1" height="1" fill="rgb(196,196,200)"/><rect x="51" y="11" width="1" height="1" fill="rgb(179,179,183)"/><rect x="52" y="11" width="1" height="1" fill="rgb(186,186,190)"/><rect x="53" y="11" width="1" height="1" fill="rgb(192,192,196)"/><rect x="54" y="11" width="1" height="1" fill="rgb(230,230,234)"/><rect x="55" y="11" width="1" height="1" fill="rgb(219,219,223)"/><rect x="0" y="12" width="1" height="1" fill="rgb(204,204,208)"/><rect x="1" y="12" width="1" height="1" fill="rgb(171,171,175)"/><rect x="2" y="12" width="1" height="1" fill="rgb(202,202,206)"/><rect x="3" y="12" width="1" height="1" fill="rgb(213,213,217)"/><rect x="4" y="12" width="1" height="1" fill="rgb(238,238,242)"/><rect x="5" y="12" width="1" height="1" fill="rgb(217,217,221)"/><rect x="6" y="12" width="1" height="1" fill="rgb(196,196,200)"/><rect x="7" y="12" width="1" height="1" fill="rgb(203,203,207)"/><rect x="8" y="12" width="1" height="1" fill="rgb(212,212,216)"/><rect x="9" y="12" width="1" height="1" fill="rgb(231,231,235)"/><rect x="10" y="12" width="1" height="1" fill="rgb(221,221,225)"/><rect x="11" y="12" width="1" height="1" fill="rgb(229,229,233)"/><rect x="12" y="12" width="1" height="1" fill="rgb(217,217,221)"/><rect x="13" y="12" width="1" height="1" fill="rgb(241,241,245)"/><rect x="14" y="12" width="1" height="1" fill="rgb(241,241,245)"/><rect x="15" y="12" width="1" height="1" fill="rgb(236,236,240)"/><rect x="16" y="12" width="1" height="1" fill="rgb(143,143,147)"/><rect x="17" y="12" width="1" height="1" fill="rgb(181,181,185)"/><rect x="18" y="12" width="1" height="1" fill="rgb(208,208,212)"/><rect x="19" y="12" width="1" height="1" fill="rgb(169,169,173)"/><rect x="20" y="12" width="1" height="1" fill="rgb(202,202,206)"/><rect x="21" y="12" width="1" height="1" fill="rgb(168,168,172)"/><rect x="22" y="12" width="1" height="1" fill="rgb(186,186,190)"/><rect x="23" y="12" width="1" height="1" fill="rgb(198,198,202)"/><rect x="24" y="12" width="1" height="1" fill="rgb(121,121,125)"/><rect x="25" y="12" width="1" height="1" fill="rgb(119,119,123)"/><rect x="26" y="12" width="1" height="1" fill="rgb(92,92,96)"/><rect x="27" y="12" width="1" height="1" fill="rgb(186,186,190)"/><rect x="28" y="12" width="1" height="1" fill="rgb(198,198,202)"/><rect x="29" y="12" width="1" height="1" fill="rgb(170,170,174)"/><rect x="30" y="12" width="1" height="1" fill="rgb(164,164,168)"/><rect x="31" y="12" width="1" height="1" fill="rgb(206,206,210)"/><rect x="32" y="12" width="1" height="1" fill="rgb(221,221,225)"/><rect x="33" y="12" width="1" height="1" fill="rgb(155,155,159)"/><rect x="34" y="12" width="1" height="1" fill="rgb(208,208,212)"/><rect x="35" y="12" width="1" height="1" fill="rgb(234,234,238)"/><rect x="36" y="12" width="1" height="1" fill="rgb(180,180,184)"/><rect x="37" y="12" width="1" height="1" fill="rgb(194,194,198)"/><rect x="38" y="12" width="1" height="1" fill="rgb(147,147,151)"/><rect x="39" y="12" width="1" height="1" fill="rgb(209,209,213)"/><rect x="40" y="12" width="1" height="1" fill="rgb(200,200,204)"/><rect x="41" y="12" width="1" height="1" fill="rgb(119,119,123)"/><rect x="42" y="12" width="1" height="1" fill="rgb(161,161,165)"/><rect x="43" y="12" width="1" height="1" fill="rgb(192,192,196)"/><rect x="44" y="12" width="1" height="1" fill="rgb(143,143,147)"/><rect x="45" y="12" width="1" height="1" fill="rgb(175,175,179)"/><rect x="46" y="12" width="1" height="1" fill="rgb(222,222,226)"/><rect x="47" y="12" width="1" height="1" fill="rgb(204,204,208)"/><rect x="48" y="12" width="1" height="1" fill="rgb(120,120,124)"/><rect x="49" y="12" width="1" height="1" fill="rgb(109,109,113)"/><rect x="50" y="12" width="1" height="1" fill="rgb(158,158,162)"/><rect x="51" y="12" width="1" height="1" fill="rgb(177,177,181)"/><rect x="52" y="12" width="1" height="1" fill="rgb(120,120,124)"/><rect x="53" y="12" width="1" height="1" fill="rgb(136,136,140)"/><rect x="54" y="12" width="1" height="1" fill="rgb(111,111,115)"/><rect x="55" y="12" width="1" height="1" fill="rgb(151,151,155)"/></g><clipPath id="clipA"><rect x="46.7" y="3.8" width="141.5" height="282.4"/></clipPath><clipPath id="clipB"><rect x="188.2" y="3.8" width="141.8" height="282.4"/></clipPath></defs><rect width="685" height="344" fill="#fff"/><rect x="61.0" y="14.0" width="56.0" height="74.0" fill="url(#skyg)"/><use href="#tex" x="61.0" y="88.0"/><path d="M61.0,29.0 Q74.0,29.6 85.0,31.0" stroke="#111" stroke-width="2" fill="none"/><path d="M84.4,29.9 L97.6,28.4 L92.8,55.3 Z" fill="url(#tipg)" stroke="#2a2a2a" stroke-width="0.9" stroke-linejoin="round"/><rect x="202.0" y="14.0" width="56.0" height="74.0" fill="url(#skyg)"/><use href="#tex" x="202.0" y="88.0"/><path d="M202.0,29.0 Q215.0,29.6 226.0,31.0" stroke="#111" stroke-width="2" fill="none"/><path d="M225.4,29.9 L238.6,28.4 L233.8,55.3 Z" fill="url(#tipg)" stroke="#2a2a2a" stroke-width="0.9" stroke-linejoin="round"/><g clip-path="url(#clipA)"><polyline points="46.70,145.32 47.20,144.06 47.70,143.13 48.20,145.88 48.70,144.10 49.20,143.98 49.70,141.58 50.20,143.61 50.70,144.76 51.20,143.41 51.70,144.31 52.20,145.89 52.70,143.72 53.20,144.41 53.70,143.83 54.20,142.52 54.70,143.68 55.20,144.74 55.70,144.79 56.20,143.60 56.70,143.69 57.20,143.05 57.70,143.16 58.20,144.38 58.70,145.37 59.20,144.64 59.70,144.25 60.20,144.23 60.70,143.17 61.20,139.70 61.70,145.37 62.20,144.45 62.70,143.56 63.20,143.17 63.70,144.78 64.20,142.47 64.70,144.61 65.20,144.87 65.70,144.26 66.20,144.10 66.70,143.90 67.20,143.53 67.70,143.85 68.20,143.90 68.70,143.56 69.20,145.02 69.70,140.76 70.20,146.45 70.70,143.10 71.20,145.43 71.70,145.32 72.20,142.71 72.70,142.34 73.20,145.56 73.70,144.10 74.20,145.81 74.70,143.57 75.20,145.56 75.70,143.47 76.20,143.64 76.70,145.21 77.20,143.26 77.70,144.25 78.20,142.79 78.70,143.75 79.20,145.25 79.70,145.17 80.20,144.79 80.70,144.60 81.20,144.47 81.70,144.59 82.20,143.61 82.70,146.00 83.20,141.74 83.70,144.64 84.20,145.05 84.70,145.16 85.20,144.96 85.70,143.64 86.20,144.33 86.70,143.98 87.20,144.87 87.70,144.38 88.20,142.73 88.70,144.67 89.20,144.51 89.70,142.68 90.20,146.74 90.70,143.70 91.20,144.86 91.70,143.41 92.20,144.45 92.70,143.23 93.20,144.27 93.70,144.28 94.20,145.15 94.70,142.61 95.20,145.25 95.70,143.50 96.20,141.55 96.70,143.88 97.20,144.23 97.70,143.42 98.20,145.43 98.70,142.70 99.20,144.41 99.70,143.59 100.20,143.70 100.70,142.64 101.20,144.67 101.70,141.95 102.20,144.32 102.70,145.90 103.20,144.35 103.70,143.45 104.20,143.96 104.70,144.62 105.20,148.68 105.70,143.67 106.20,143.89 106.70,145.03 107.20,143.28 107.70,145.33 108.20,143.54 108.70,143.90 109.20,143.91 109.70,144.51 110.20,143.54 110.70,144.27 111.20,143.73 111.70,143.78 112.20,145.03 112.70,143.70 113.20,145.51 113.70,143.15 114.20,142.73 114.70,145.26 115.20,144.09 115.70,146.33 116.20,142.26 116.70,145.71 117.20,145.44 117.70,142.43 118.20,143.31 118.70,143.03 119.20,143.69 119.70,141.86 120.20,143.89 120.70,144.14 121.20,144.48 121.70,144.18 122.20,145.30 122.70,143.48 123.20,144.60 123.70,142.70 124.20,145.67 124.70,144.83 125.20,143.68 125.70,144.06 126.20,143.33 126.70,144.40 127.20,143.55 127.70,144.87 128.20,145.42 128.70,145.15 129.20,142.78 129.70,143.90 130.20,145.43 130.70,144.94 131.20,145.55 131.70,146.66 132.20,142.58 132.70,145.63 133.20,144.29 133.70,143.66 134.20,144.94 134.70,144.64 135.20,145.19 135.70,143.31 136.20,145.22 136.70,143.75 137.20,143.59 137.70,146.72 138.20,143.82 138.70,143.80 139.20,143.14 139.70,147.50 140.30,153.40 141.00,151.00" fill="none" stroke="#2792e0" stroke-width="3.0" stroke-linejoin="round" /><polyline points="46.70,140.44 47.20,140.91 47.70,137.79 48.20,139.27 48.70,139.43 49.20,138.48 49.70,138.98 50.20,138.73 50.70,140.46 51.20,140.64 51.70,139.18 52.20,139.42 52.70,140.84 53.20,139.18 53.70,140.98 54.20,139.86 54.70,139.24 55.20,139.74 55.70,139.44 56.20,139.07 56.70,140.80 57.20,139.17 57.70,139.73 58.20,139.32 58.70,139.12 59.20,139.39 59.70,137.96 60.20,139.00 60.70,141.36 61.20,140.05 61.70,141.79 62.20,140.91 62.70,138.52 63.20,140.81 63.70,140.48 64.20,140.02 64.70,140.33 65.20,139.21 65.70,140.10 66.20,140.33 66.70,140.26 67.20,139.64 67.70,140.05 68.20,140.50 68.70,139.45 69.20,140.80 69.70,140.07 70.20,138.97 70.70,139.64 71.20,140.15 71.70,140.13 72.20,140.39 72.70,139.43 73.20,140.20 73.70,140.71 74.20,140.33 74.70,140.34 75.20,139.25 75.70,139.66 76.20,138.23 76.70,141.15 77.20,137.79 77.70,139.64 78.20,141.41 78.70,139.67 79.20,141.07 79.70,139.66 80.20,140.79 80.70,140.49 81.20,140.57 81.70,138.90 82.20,140.49 82.70,140.87 83.20,140.14 83.70,140.42 84.20,139.65 84.70,140.08 85.20,141.59 85.70,140.55 86.20,139.58 86.70,139.43 87.20,140.35 87.70,140.65 88.20,140.51 88.70,141.35 89.20,140.03 89.70,139.84 90.20,140.96 90.70,140.21 91.20,140.07 91.70,138.99 92.20,141.60 92.70,142.99 93.20,140.60 93.70,139.16 94.20,139.95 94.70,139.56 95.20,140.31 95.70,139.61 96.20,143.15 96.70,140.95 97.20,140.87 97.70,139.48 98.20,140.98 98.70,140.40 99.20,139.39 99.70,141.40 100.20,139.71 100.70,141.53 101.20,141.02 101.70,141.18 102.20,140.98 102.70,137.91 103.20,139.42 103.70,140.81 104.20,142.50 104.70,141.91 105.20,139.54 105.70,138.69 106.20,139.65 106.70,140.47 107.20,139.81 107.70,139.74 108.20,141.15 108.70,138.67 109.20,139.73 109.70,139.64 110.20,140.58 110.70,139.65 111.20,140.98 111.70,139.58 112.20,140.96 112.70,140.84 113.20,140.24 113.70,139.67 114.20,140.35 114.70,138.99 115.20,141.52 115.70,139.48 116.20,140.21 116.70,140.25 117.20,139.34 117.70,139.81 118.20,139.65 118.70,140.99 119.20,140.93 119.70,141.64 120.20,139.28 120.70,140.60 121.20,139.90 121.70,140.52 122.20,140.37 122.70,140.20 123.20,140.27 123.70,137.83 124.20,141.00 124.70,139.75 125.20,139.45 125.70,140.24 126.20,138.58 126.70,139.95 127.20,139.72 127.70,140.02 128.20,138.63 128.70,139.86 129.20,139.70 129.70,138.99 130.20,141.93 130.70,141.99 131.20,141.83 131.70,139.18 132.20,139.92 132.70,141.50 133.20,139.52 133.70,139.78 134.20,138.68 134.70,139.60 135.20,141.10 135.70,139.77 136.20,141.37 136.70,140.42 137.20,140.67 137.70,140.50 138.20,139.29 138.70,139.82 139.20,141.06 139.70,138.44 140.20,140.14 140.70,141.51 141.20,138.36 142.30,140.60" fill="none" stroke="#1c3596" stroke-width="2.8" stroke-linejoin="round" /><polyline points="142.00,141.50 164.90,3.00 165.30,0.00" fill="none" stroke="#1c3596" stroke-width="1.7" stroke-linejoin="round" /><polyline points="141.00,151.00 165.90,3.00 166.40,0.00" fill="none" stroke="#2792e0" stroke-width="1.9" stroke-linejoin="round" /><polyline points="46.70,213.48 47.20,212.45 47.70,215.01 48.20,213.68 48.70,213.90 49.20,214.11 49.70,212.02 50.20,214.72 50.70,213.33 51.20,212.07 51.70,212.97 52.20,213.69 52.70,213.68 53.20,213.85 53.70,212.90 54.20,212.80 54.70,211.81 55.20,214.91 55.70,213.16 56.20,215.20 56.70,213.27 57.20,212.78 57.70,214.96 58.20,213.67 58.70,213.00 59.20,216.23 59.70,214.01 60.20,213.50 60.70,211.38 61.20,213.23 61.70,214.17 62.20,214.49 62.70,213.97 63.20,213.23 63.70,213.65 64.20,212.97 64.70,213.36 65.20,214.00 65.70,212.59 66.20,212.89 66.70,214.41 67.20,212.27 67.70,214.21 68.20,213.05 68.70,213.97 69.20,213.27 69.70,214.27 70.20,214.08 70.70,213.31 71.20,213.17 71.70,214.61 72.20,214.19 72.70,213.37 73.20,211.76 73.70,213.97 74.20,212.54 74.70,212.57 75.20,211.76 75.70,212.93 76.20,214.26 76.70,211.81 77.20,212.31 77.70,213.36 78.20,213.43 78.70,211.68 79.20,214.82 79.70,213.41 80.20,212.84 80.70,213.16 81.20,214.13 81.70,212.97 82.20,213.37 82.70,213.56 83.20,211.87 83.70,213.90 84.20,213.45 84.70,213.58 85.20,213.28 85.70,210.00 86.20,213.66 86.70,214.71 87.20,212.90 87.70,212.76 88.20,213.16 88.70,213.45 89.20,215.47 89.70,213.57 90.20,212.75 90.70,212.08 91.20,213.08 91.70,212.12 92.20,212.60 92.70,214.16 93.20,213.57 93.70,214.51 94.20,214.55 94.70,213.29 95.20,213.33 95.70,213.44 96.20,214.82 96.70,215.01 97.20,214.11 97.70,214.47 98.20,214.81 98.70,213.31 99.20,213.68 99.70,211.93 100.20,213.68 100.70,213.42 101.20,212.77 101.70,214.27 102.20,212.20 102.70,212.88 103.20,212.43 103.70,213.79 104.20,213.38 104.70,212.13 105.20,213.34 105.70,213.16 106.20,214.08 106.70,211.98 107.20,215.32 107.70,213.74 108.20,211.71 108.70,212.97 109.20,211.80 109.70,216.03 110.20,214.81 110.70,215.19 111.20,212.52 111.70,213.53 112.20,213.47 112.70,213.29 113.20,213.52 113.70,214.68 114.20,214.97 114.70,213.35 115.20,212.50 115.70,211.58 116.20,212.99 116.70,213.19 117.20,213.72 117.70,212.37 118.20,213.04 118.70,213.63 119.20,214.63 119.70,214.15 120.20,213.14 120.70,213.91 121.20,214.17 121.70,214.81 122.20,212.73 122.70,212.24 123.20,213.20 123.70,213.10 124.20,213.35 124.70,213.49 125.20,213.49 125.70,212.53 126.20,212.41 126.70,213.35 127.20,213.65 127.70,213.73 128.20,213.97 129.60,240.00 130.60,268.40 132.60,257.00 177.30,4.00 178.00,0.00" fill="none" stroke="#84c02a" stroke-width="2.5" stroke-linejoin="round" /><polyline points="46.70,210.23 47.20,210.36 47.70,211.37 48.20,210.36 48.70,210.37 49.20,211.47 49.70,210.35 50.20,209.35 50.70,210.43 51.20,209.78 51.70,209.88 52.20,210.83 52.70,211.02 53.20,210.72 53.70,209.55 54.20,208.13 54.70,211.11 55.20,210.07 55.70,211.72 56.20,209.75 56.70,209.30 57.20,209.56 57.70,210.03 58.20,211.46 58.70,210.90 59.20,210.80 59.70,209.89 60.20,210.82 60.70,210.97 61.20,209.03 61.70,210.20 62.20,209.56 62.70,209.30 63.20,209.47 63.70,208.76 64.20,211.21 64.70,211.58 65.20,208.33 65.70,211.83 66.20,209.72 66.70,210.28 67.20,208.93 67.70,210.15 68.20,210.05 68.70,211.26 69.20,210.16 69.70,208.63 70.20,210.62 70.70,208.61 71.20,209.74 71.70,210.42 72.20,208.72 72.70,209.86 73.20,209.26 73.70,211.14 74.20,209.37 74.70,209.16 75.20,210.77 75.70,209.18 76.20,210.24 76.70,210.74 77.20,208.99 77.70,209.92 78.20,210.93 78.70,210.23 79.20,211.38 79.70,210.03 80.20,209.71 80.70,209.23 81.20,209.96 81.70,210.41 82.20,209.18 82.70,208.97 83.20,210.97 83.70,209.52 84.20,210.02 84.70,208.98 85.20,209.84 85.70,210.01 86.20,210.24 86.70,210.43 87.20,209.74 87.70,210.92 88.20,209.68 88.70,209.59 89.20,210.29 89.70,210.41 90.20,210.37 90.70,209.52 91.20,209.96 91.70,210.63 92.20,208.23 92.70,210.21 93.20,210.33 93.70,211.30 94.20,211.71 94.70,210.60 95.20,210.43 95.70,210.89 96.20,210.27 96.70,209.36 97.20,209.39 97.70,208.22 98.20,209.28 98.70,210.86 99.20,210.55 99.70,211.08 100.20,211.23 100.70,210.67 101.20,209.13 101.70,209.98 102.20,212.53 102.70,209.80 103.20,210.13 103.70,210.36 104.20,210.39 104.70,209.82 105.20,210.07 105.70,211.06 106.20,209.78 106.70,209.77 107.20,209.92 107.70,210.61 108.20,209.58 108.70,208.17 109.20,210.28 109.70,210.10 110.20,211.85 110.70,210.82 111.20,210.98 111.70,209.96 112.20,210.52 112.70,209.12 113.20,209.15 113.70,210.43 114.20,209.10 114.70,210.88 115.20,210.26 115.70,210.41 116.20,208.35 116.70,210.30 117.20,209.28 117.70,209.87 118.20,208.63 118.70,210.35 119.20,209.92 119.70,210.31 120.20,210.33 120.70,209.00 121.20,209.69 121.70,209.93 122.20,209.24 122.70,210.51 123.20,210.39 123.70,210.86 124.20,211.83 124.70,210.20 125.20,210.85 125.70,209.72 126.20,209.53 126.70,209.35 127.20,210.19 127.70,209.01 128.20,210.25 128.70,210.82 129.20,209.33 129.70,210.47 130.20,211.46 130.70,210.25 131.20,209.19 131.70,208.70 132.20,210.61 132.70,211.24 133.20,209.49 133.70,210.33 134.20,209.30 134.70,210.14 135.20,210.62 135.70,210.27 136.20,209.71 136.70,209.73 137.20,208.97 137.70,210.68 138.20,209.99 138.70,210.82 139.20,209.88 139.70,209.51 140.20,210.32 141.00,208.50 141.80,205.00" fill="none" stroke="#1b7a3a" stroke-width="2.2" stroke-linejoin="round" /></g><g clip-path="url(#clipB)"><polyline points="188.20,143.09 190.40,141.18 192.60,144.55 194.80,139.87 197.00,140.60 199.20,142.08 201.40,142.23 203.60,140.21 205.80,143.12 208.00,142.83 210.20,143.12 212.40,143.10 214.60,144.63 216.80,142.90 219.00,143.19 221.20,141.52 223.40,144.24 225.60,143.05 227.80,140.22 230.00,143.94 232.20,140.95 234.40,143.69 236.60,143.69 238.80,141.25 241.00,141.72 243.20,143.58 245.40,143.93 247.60,141.94 249.80,141.51 252.00,143.14 254.20,142.31 256.40,142.43 258.60,140.83 260.80,141.49 263.00,141.38 265.20,147.01 267.40,144.05 269.60,142.49 271.80,143.63 274.00,145.64 276.20,140.92 278.40,139.78 280.60,142.93 282.80,140.11 285.00,141.89 287.20,142.37 289.40,139.79 291.60,142.56 293.80,143.87 296.00,141.72 298.20,139.21 300.40,142.48 302.60,143.98 304.80,142.33 307.00,141.70 308.20,142.00 311.20,130.00 320.20,60.00 326.50,19.00 330.80,-1.00" fill="none" stroke="#531a72" stroke-width="2.0" stroke-linejoin="round" /><polyline points="188.20,146.29 190.40,149.66 192.60,147.98 194.80,150.36 197.00,150.83 199.20,149.00 201.40,146.86 203.60,145.86 205.80,149.59 208.00,147.63 210.20,148.49 212.40,148.66 214.60,147.61 216.80,152.20 219.00,148.73 221.20,152.22 223.40,147.37 225.60,145.76 227.80,149.95 230.00,146.72 232.20,149.75 234.40,147.79 236.60,148.97 238.80,147.81 241.00,151.49 243.20,147.82 245.40,149.51 247.60,147.80 249.80,148.47 252.00,149.05 254.20,148.52 256.40,151.86 258.60,146.94 260.80,149.19 263.00,150.74 265.20,149.89 267.40,152.87 269.60,147.82 271.80,145.54 274.00,151.31 276.20,149.82 278.40,153.22 280.60,150.24 282.80,145.42 285.00,146.49 287.20,147.20 289.40,148.33 291.60,149.77 293.80,146.22 296.00,148.95 298.20,150.97 300.40,147.49 303.60,158.00 304.70,166.40 306.50,157.00 311.60,130.00 320.60,60.00 326.90,19.00 331.20,-1.00" fill="none" stroke="#c0166f" stroke-width="2.0" stroke-linejoin="round" /><polyline points="188.20,219.77 189.70,219.76 191.20,219.05 192.70,221.02 194.20,221.15 195.70,220.53 197.20,218.46 198.70,220.42 200.20,218.37 201.70,218.95 203.20,220.19 204.70,220.50 206.20,220.34 207.70,219.43 209.20,220.58 210.70,219.49 212.20,219.66 213.70,220.65 215.20,219.64 216.70,219.51 218.20,219.22 219.70,220.35 221.20,220.15 222.70,218.06 224.20,219.72 225.70,220.48 227.20,218.64 228.70,220.60 230.20,221.57 231.70,220.31 233.20,220.65 234.70,219.59 236.20,218.96 237.70,221.06 239.20,218.57 240.70,221.21 242.20,218.08 243.70,219.99 245.20,218.76 246.70,220.84 248.20,220.22 249.70,221.52 251.20,220.60 252.70,218.49 254.20,220.79 255.70,218.10 257.20,220.55 258.70,219.83 260.20,218.70 261.70,220.42 263.20,220.39 264.70,220.22 266.20,219.41 267.70,221.02 269.20,219.31 270.70,221.44 272.20,218.83 273.70,219.77 275.20,221.37 276.70,221.34 278.20,219.34 279.70,221.07 281.20,220.47 282.70,220.23 284.20,219.89 285.70,220.60 287.20,220.88 288.70,222.15 290.20,219.84 291.70,220.06 293.20,219.77 294.70,221.79 296.90,245.00 298.20,271.20 300.00,262.00 310.60,190.00 320.20,120.00 331.00,47.00" fill="none" stroke="#84c02a" stroke-width="2.0" stroke-linejoin="round" /><polyline points="188.20,214.46 189.70,215.25 191.20,214.89 192.70,214.89 194.20,213.48 195.70,212.94 197.20,214.71 198.70,214.84 200.20,215.02 201.70,212.51 203.20,213.70 204.70,214.11 206.20,215.58 207.70,213.44 209.20,213.50 210.70,212.86 212.20,215.26 213.70,214.66 215.20,215.43 216.70,215.33 218.20,213.04 219.70,214.79 221.20,213.16 222.70,215.40 224.20,215.76 225.70,213.74 227.20,214.87 228.70,214.54 230.20,213.14 231.70,216.12 233.20,212.94 234.70,214.31 236.20,215.21 237.70,214.31 239.20,213.02 240.70,214.69 242.20,213.91 243.70,212.81 245.20,214.66 246.70,214.29 248.20,214.34 249.70,214.80 251.20,214.48 252.70,213.36 254.20,213.50 255.70,214.56 257.20,215.28 258.70,213.30 260.20,212.68 261.70,214.51 263.20,214.88 264.70,213.42 266.20,214.17 267.70,214.35 269.20,214.61 270.70,214.46 272.20,215.87 273.70,215.68 275.20,215.59 276.70,214.03 278.20,213.31 279.70,213.59 281.20,215.15 282.70,213.87 284.20,212.77 285.70,213.84 287.20,213.48 288.70,214.29 290.20,213.82 291.70,213.91 293.20,214.00 294.70,213.50 296.20,216.35 297.70,214.46 299.20,214.02 300.70,214.36 302.20,214.12 303.70,215.52 305.20,215.63 306.60,212.00 307.60,206.00" fill="none" stroke="#1b7a3a" stroke-width="1.9" stroke-linejoin="round" /></g><rect x="46.7" y="3.8" width="283.3" height="282.4" fill="none" stroke="#000" stroke-width="1.8"/><line x1="188.20" y1="3.80" x2="188.20" y2="286.20" stroke="#000" stroke-width="1.8" /><line x1="53.78" y1="286.20" x2="53.78" y2="282.20" stroke="#000" stroke-width="1.6" /><line x1="53.78" y1="3.80" x2="53.78" y2="7.80" stroke="#000" stroke-width="1.6" /><line x1="60.85" y1="286.20" x2="60.85" y2="279.00" stroke="#000" stroke-width="1.6" /><line x1="60.85" y1="3.80" x2="60.85" y2="11.00" stroke="#000" stroke-width="1.6" /><line x1="67.93" y1="286.20" x2="67.93" y2="282.20" stroke="#000" stroke-width="1.6" /><line x1="67.93" y1="3.80" x2="67.93" y2="7.80" stroke="#000" stroke-width="1.6" /><line x1="75.00" y1="286.20" x2="75.00" y2="282.20" stroke="#000" stroke-width="1.6" /><line x1="75.00" y1="3.80" x2="75.00" y2="7.80" stroke="#000" stroke-width="1.6" /><line x1="82.08" y1="286.20" x2="82.08" y2="282.20" stroke="#000" stroke-width="1.6" /><line x1="82.08" y1="3.80" x2="82.08" y2="7.80" stroke="#000" stroke-width="1.6" /><line x1="89.15" y1="286.20" x2="89.15" y2="282.20" stroke="#000" stroke-width="1.6" /><line x1="89.15" y1="3.80" x2="89.15" y2="7.80" stroke="#000" stroke-width="1.6" /><line x1="96.22" y1="286.20" x2="96.22" y2="279.00" stroke="#000" stroke-width="1.6" /><line x1="96.22" y1="3.80" x2="96.22" y2="11.00" stroke="#000" stroke-width="1.6" /><line x1="103.30" y1="286.20" x2="103.30" y2="282.20" stroke="#000" stroke-width="1.6" /><line x1="103.30" y1="3.80" x2="103.30" y2="7.80" stroke="#000" stroke-width="1.6" /><line x1="110.38" y1="286.20" x2="110.38" y2="282.20" stroke="#000" stroke-width="1.6" /><line x1="110.38" y1="3.80" x2="110.38" y2="7.80" stroke="#000" stroke-width="1.6" /><line x1="117.45" y1="286.20" x2="117.45" y2="282.20" stroke="#000" stroke-width="1.6" /><line x1="117.45" y1="3.80" x2="117.45" y2="7.80" stroke="#000" stroke-width="1.6" /><line x1="124.53" y1="286.20" x2="124.53" y2="282.20" stroke="#000" stroke-width="1.6" /><line x1="124.53" y1="3.80" x2="124.53" y2="7.80" stroke="#000" stroke-width="1.6" /><line x1="131.60" y1="286.20" x2="131.60" y2="279.00" stroke="#000" stroke-width="1.6" /><line x1="131.60" y1="3.80" x2="131.60" y2="11.00" stroke="#000" stroke-width="1.6" /><line x1="138.68" y1="286.20" x2="138.68" y2="282.20" stroke="#000" stroke-width="1.6" /><line x1="138.68" y1="3.80" x2="138.68" y2="7.80" stroke="#000" stroke-width="1.6" /><line x1="145.75" y1="286.20" x2="145.75" y2="282.20" stroke="#000" stroke-width="1.6" /><line x1="145.75" y1="3.80" x2="145.75" y2="7.80" stroke="#000" stroke-width="1.6" /><line x1="152.82" y1="286.20" x2="152.82" y2="282.20" stroke="#000" stroke-width="1.6" /><line x1="152.82" y1="3.80" x2="152.82" y2="7.80" stroke="#000" stroke-width="1.6" /><line x1="159.90" y1="286.20" x2="159.90" y2="282.20" stroke="#000" stroke-width="1.6" /><line x1="159.90" y1="3.80" x2="159.90" y2="7.80" stroke="#000" stroke-width="1.6" /><line x1="166.98" y1="286.20" x2="166.98" y2="279.00" stroke="#000" stroke-width="1.6" /><line x1="166.98" y1="3.80" x2="166.98" y2="11.00" stroke="#000" stroke-width="1.6" /><line x1="174.05" y1="286.20" x2="174.05" y2="282.20" stroke="#000" stroke-width="1.6" /><line x1="174.05" y1="3.80" x2="174.05" y2="7.80" stroke="#000" stroke-width="1.6" /><line x1="181.12" y1="286.20" x2="181.12" y2="282.20" stroke="#000" stroke-width="1.6" /><line x1="181.12" y1="3.80" x2="181.12" y2="7.80" stroke="#000" stroke-width="1.6" /><line x1="195.29" y1="286.20" x2="195.29" y2="282.20" stroke="#000" stroke-width="1.6" /><line x1="195.29" y1="3.80" x2="195.29" y2="7.80" stroke="#000" stroke-width="1.6" /><line x1="202.38" y1="286.20" x2="202.38" y2="279.00" stroke="#000" stroke-width="1.6" /><line x1="202.38" y1="3.80" x2="202.38" y2="11.00" stroke="#000" stroke-width="1.6" /><line x1="209.47" y1="286.20" x2="209.47" y2="282.20" stroke="#000" stroke-width="1.6" /><line x1="209.47" y1="3.80" x2="209.47" y2="7.80" stroke="#000" stroke-width="1.6" /><line x1="216.56" y1="286.20" x2="216.56" y2="282.20" stroke="#000" stroke-width="1.6" /><line x1="216.56" y1="3.80" x2="216.56" y2="7.80" stroke="#000" stroke-width="1.6" /><line x1="223.65" y1="286.20" x2="223.65" y2="282.20" stroke="#000" stroke-width="1.6" /><line x1="223.65" y1="3.80" x2="223.65" y2="7.80" stroke="#000" stroke-width="1.6" /><line x1="230.74" y1="286.20" x2="230.74" y2="282.20" stroke="#000" stroke-width="1.6" /><line x1="230.74" y1="3.80" x2="230.74" y2="7.80" stroke="#000" stroke-width="1.6" /><line x1="237.83" y1="286.20" x2="237.83" y2="279.00" stroke="#000" stroke-width="1.6" /><line x1="237.83" y1="3.80" x2="237.83" y2="11.00" stroke="#000" stroke-width="1.6" /><line x1="244.92" y1="286.20" x2="244.92" y2="282.20" stroke="#000" stroke-width="1.6" /><line x1="244.92" y1="3.80" x2="244.92" y2="7.80" stroke="#000" stroke-width="1.6" /><line x1="252.01" y1="286.20" x2="252.01" y2="282.20" stroke="#000" stroke-width="1.6" /><line x1="252.01" y1="3.80" x2="252.01" y2="7.80" stroke="#000" stroke-width="1.6" /><line x1="259.10" y1="286.20" x2="259.10" y2="282.20" stroke="#000" stroke-width="1.6" /><line x1="259.10" y1="3.80" x2="259.10" y2="7.80" stroke="#000" stroke-width="1.6" /><line x1="266.19" y1="286.20" x2="266.19" y2="282.20" stroke="#000" stroke-width="1.6" /><line x1="266.19" y1="3.80" x2="266.19" y2="7.80" stroke="#000" stroke-width="1.6" /><line x1="273.28" y1="286.20" x2="273.28" y2="279.00" stroke="#000" stroke-width="1.6" /><line x1="273.28" y1="3.80" x2="273.28" y2="11.00" stroke="#000" stroke-width="1.6" /><line x1="280.37" y1="286.20" x2="280.37" y2="282.20" stroke="#000" stroke-width="1.6" /><line x1="280.37" y1="3.80" x2="280.37" y2="7.80" stroke="#000" stroke-width="1.6" /><line x1="287.46" y1="286.20" x2="287.46" y2="282.20" stroke="#000" stroke-width="1.6" /><line x1="287.46" y1="3.80" x2="287.46" y2="7.80" stroke="#000" stroke-width="1.6" /><line x1="294.55" y1="286.20" x2="294.55" y2="282.20" stroke="#000" stroke-width="1.6" /><line x1="294.55" y1="3.80" x2="294.55" y2="7.80" stroke="#000" stroke-width="1.6" /><line x1="301.64" y1="286.20" x2="301.64" y2="282.20" stroke="#000" stroke-width="1.6" /><line x1="301.64" y1="3.80" x2="301.64" y2="7.80" stroke="#000" stroke-width="1.6" /><line x1="308.73" y1="286.20" x2="308.73" y2="279.00" stroke="#000" stroke-width="1.6" /><line x1="308.73" y1="3.80" x2="308.73" y2="11.00" stroke="#000" stroke-width="1.6" /><line x1="315.82" y1="286.20" x2="315.82" y2="282.20" stroke="#000" stroke-width="1.6" /><line x1="315.82" y1="3.80" x2="315.82" y2="7.80" stroke="#000" stroke-width="1.6" /><line x1="322.91" y1="286.20" x2="322.91" y2="282.20" stroke="#000" stroke-width="1.6" /><line x1="322.91" y1="3.80" x2="322.91" y2="7.80" stroke="#000" stroke-width="1.6" /><line x1="46.70" y1="271.82" x2="50.70" y2="271.82" stroke="#000" stroke-width="1.6" /><line x1="184.20" y1="271.82" x2="192.20" y2="271.82" stroke="#000" stroke-width="1.6" /><line x1="326.00" y1="271.82" x2="330.00" y2="271.82" stroke="#000" stroke-width="1.6" /><line x1="46.70" y1="243.56" x2="50.70" y2="243.56" stroke="#000" stroke-width="1.6" /><line x1="184.20" y1="243.56" x2="192.20" y2="243.56" stroke="#000" stroke-width="1.6" /><line x1="326.00" y1="243.56" x2="330.00" y2="243.56" stroke="#000" stroke-width="1.6" /><line x1="46.70" y1="215.30" x2="53.90" y2="215.30" stroke="#000" stroke-width="1.6" /><line x1="181.00" y1="215.30" x2="195.40" y2="215.30" stroke="#000" stroke-width="1.6" /><line x1="322.80" y1="215.30" x2="330.00" y2="215.30" stroke="#000" stroke-width="1.6" /><line x1="46.70" y1="187.04" x2="50.70" y2="187.04" stroke="#000" stroke-width="1.6" /><line x1="184.20" y1="187.04" x2="192.20" y2="187.04" stroke="#000" stroke-width="1.6" /><line x1="326.00" y1="187.04" x2="330.00" y2="187.04" stroke="#000" stroke-width="1.6" /><line x1="46.70" y1="158.78" x2="50.70" y2="158.78" stroke="#000" stroke-width="1.6" /><line x1="184.20" y1="158.78" x2="192.20" y2="158.78" stroke="#000" stroke-width="1.6" /><line x1="326.00" y1="158.78" x2="330.00" y2="158.78" stroke="#000" stroke-width="1.6" /><line x1="46.70" y1="130.52" x2="50.70" y2="130.52" stroke="#000" stroke-width="1.6" /><line x1="184.20" y1="130.52" x2="192.20" y2="130.52" stroke="#000" stroke-width="1.6" /><line x1="326.00" y1="130.52" x2="330.00" y2="130.52" stroke="#000" stroke-width="1.6" /><line x1="46.70" y1="102.26" x2="50.70" y2="102.26" stroke="#000" stroke-width="1.6" /><line x1="184.20" y1="102.26" x2="192.20" y2="102.26" stroke="#000" stroke-width="1.6" /><line x1="326.00" y1="102.26" x2="330.00" y2="102.26" stroke="#000" stroke-width="1.6" /><line x1="46.70" y1="74.00" x2="53.90" y2="74.00" stroke="#000" stroke-width="1.6" /><line x1="181.00" y1="74.00" x2="195.40" y2="74.00" stroke="#000" stroke-width="1.6" /><line x1="322.80" y1="74.00" x2="330.00" y2="74.00" stroke="#000" stroke-width="1.6" /><line x1="46.70" y1="45.74" x2="50.70" y2="45.74" stroke="#000" stroke-width="1.6" /><line x1="184.20" y1="45.74" x2="192.20" y2="45.74" stroke="#000" stroke-width="1.6" /><line x1="326.00" y1="45.74" x2="330.00" y2="45.74" stroke="#000" stroke-width="1.6" /><line x1="46.70" y1="17.48" x2="50.70" y2="17.48" stroke="#000" stroke-width="1.6" /><line x1="184.20" y1="17.48" x2="192.20" y2="17.48" stroke="#000" stroke-width="1.6" /><line x1="326.00" y1="17.48" x2="330.00" y2="17.48" stroke="#000" stroke-width="1.6" /><rect x="397.5" y="4.1" width="282.5" height="280.5" fill="none" stroke="#000" stroke-width="1.8"/><line x1="397.50" y1="144.80" x2="680.00" y2="144.80" stroke="#000" stroke-width="1.8" /><line x1="437.86" y1="4.10" x2="437.86" y2="11.10" stroke="#000" stroke-width="1.6" /><line x1="437.86" y1="137.80" x2="437.86" y2="151.80" stroke="#000" stroke-width="1.6" /><line x1="437.86" y1="284.60" x2="437.86" y2="277.60" stroke="#000" stroke-width="1.6" /><line x1="478.21" y1="4.10" x2="478.21" y2="11.10" stroke="#000" stroke-width="1.6" /><line x1="478.21" y1="137.80" x2="478.21" y2="151.80" stroke="#000" stroke-width="1.6" /><line x1="478.21" y1="284.60" x2="478.21" y2="277.60" stroke="#000" stroke-width="1.6" /><line x1="518.57" y1="4.10" x2="518.57" y2="11.10" stroke="#000" stroke-width="1.6" /><line x1="518.57" y1="137.80" x2="518.57" y2="151.80" stroke="#000" stroke-width="1.6" /><line x1="518.57" y1="284.60" x2="518.57" y2="277.60" stroke="#000" stroke-width="1.6" /><line x1="558.93" y1="4.10" x2="558.93" y2="11.10" stroke="#000" stroke-width="1.6" /><line x1="558.93" y1="137.80" x2="558.93" y2="151.80" stroke="#000" stroke-width="1.6" /><line x1="558.93" y1="284.60" x2="558.93" y2="277.60" stroke="#000" stroke-width="1.6" /><line x1="599.29" y1="4.10" x2="599.29" y2="11.10" stroke="#000" stroke-width="1.6" /><line x1="599.29" y1="137.80" x2="599.29" y2="151.80" stroke="#000" stroke-width="1.6" /><line x1="599.29" y1="284.60" x2="599.29" y2="277.60" stroke="#000" stroke-width="1.6" /><line x1="639.64" y1="4.10" x2="639.64" y2="11.10" stroke="#000" stroke-width="1.6" /><line x1="639.64" y1="137.80" x2="639.64" y2="151.80" stroke="#000" stroke-width="1.6" /><line x1="639.64" y1="284.60" x2="639.64" y2="277.60" stroke="#000" stroke-width="1.6" /><line x1="397.50" y1="140.11" x2="400.90" y2="140.11" stroke="#000" stroke-width="1.6" /><line x1="676.60" y1="140.11" x2="680.00" y2="140.11" stroke="#000" stroke-width="1.6" /><line x1="397.50" y1="279.94" x2="400.90" y2="279.94" stroke="#000" stroke-width="1.6" /><line x1="676.60" y1="279.94" x2="680.00" y2="279.94" stroke="#000" stroke-width="1.6" /><line x1="397.50" y1="130.73" x2="400.90" y2="130.73" stroke="#000" stroke-width="1.6" /><line x1="676.60" y1="130.73" x2="680.00" y2="130.73" stroke="#000" stroke-width="1.6" /><line x1="397.50" y1="270.62" x2="400.90" y2="270.62" stroke="#000" stroke-width="1.6" /><line x1="676.60" y1="270.62" x2="680.00" y2="270.62" stroke="#000" stroke-width="1.6" /><line x1="397.50" y1="121.35" x2="404.30" y2="121.35" stroke="#000" stroke-width="1.6" /><line x1="673.20" y1="121.35" x2="680.00" y2="121.35" stroke="#000" stroke-width="1.6" /><line x1="397.50" y1="261.30" x2="404.30" y2="261.30" stroke="#000" stroke-width="1.6" /><line x1="673.20" y1="261.30" x2="680.00" y2="261.30" stroke="#000" stroke-width="1.6" /><line x1="397.50" y1="111.97" x2="400.90" y2="111.97" stroke="#000" stroke-width="1.6" /><line x1="676.60" y1="111.97" x2="680.00" y2="111.97" stroke="#000" stroke-width="1.6" /><line x1="397.50" y1="251.98" x2="400.90" y2="251.98" stroke="#000" stroke-width="1.6" /><line x1="676.60" y1="251.98" x2="680.00" y2="251.98" stroke="#000" stroke-width="1.6" /><line x1="397.50" y1="102.59" x2="400.90" y2="102.59" stroke="#000" stroke-width="1.6" /><line x1="676.60" y1="102.59" x2="680.00" y2="102.59" stroke="#000" stroke-width="1.6" /><line x1="397.50" y1="242.66" x2="400.90" y2="242.66" stroke="#000" stroke-width="1.6" /><line x1="676.60" y1="242.66" x2="680.00" y2="242.66" stroke="#000" stroke-width="1.6" /><line x1="397.50" y1="93.21" x2="400.90" y2="93.21" stroke="#000" stroke-width="1.6" /><line x1="676.60" y1="93.21" x2="680.00" y2="93.21" stroke="#000" stroke-width="1.6" /><line x1="397.50" y1="233.34" x2="400.90" y2="233.34" stroke="#000" stroke-width="1.6" /><line x1="676.60" y1="233.34" x2="680.00" y2="233.34" stroke="#000" stroke-width="1.6" /><line x1="397.50" y1="83.83" x2="400.90" y2="83.83" stroke="#000" stroke-width="1.6" /><line x1="676.60" y1="83.83" x2="680.00" y2="83.83" stroke="#000" stroke-width="1.6" /><line x1="397.50" y1="224.02" x2="400.90" y2="224.02" stroke="#000" stroke-width="1.6" /><line x1="676.60" y1="224.02" x2="680.00" y2="224.02" stroke="#000" stroke-width="1.6" /><line x1="397.50" y1="74.45" x2="404.30" y2="74.45" stroke="#000" stroke-width="1.6" /><line x1="673.20" y1="74.45" x2="680.00" y2="74.45" stroke="#000" stroke-width="1.6" /><line x1="397.50" y1="214.70" x2="404.30" y2="214.70" stroke="#000" stroke-width="1.6" /><line x1="673.20" y1="214.70" x2="680.00" y2="214.70" stroke="#000" stroke-width="1.6" /><line x1="397.50" y1="65.07" x2="400.90" y2="65.07" stroke="#000" stroke-width="1.6" /><line x1="676.60" y1="65.07" x2="680.00" y2="65.07" stroke="#000" stroke-width="1.6" /><line x1="397.50" y1="205.38" x2="400.90" y2="205.38" stroke="#000" stroke-width="1.6" /><line x1="676.60" y1="205.38" x2="680.00" y2="205.38" stroke="#000" stroke-width="1.6" /><line x1="397.50" y1="55.69" x2="400.90" y2="55.69" stroke="#000" stroke-width="1.6" /><line x1="676.60" y1="55.69" x2="680.00" y2="55.69" stroke="#000" stroke-width="1.6" /><line x1="397.50" y1="196.06" x2="400.90" y2="196.06" stroke="#000" stroke-width="1.6" /><line x1="676.60" y1="196.06" x2="680.00" y2="196.06" stroke="#000" stroke-width="1.6" /><line x1="397.50" y1="46.31" x2="400.90" y2="46.31" stroke="#000" stroke-width="1.6" /><line x1="676.60" y1="46.31" x2="680.00" y2="46.31" stroke="#000" stroke-width="1.6" /><line x1="397.50" y1="186.74" x2="400.90" y2="186.74" stroke="#000" stroke-width="1.6" /><line x1="676.60" y1="186.74" x2="680.00" y2="186.74" stroke="#000" stroke-width="1.6" /><line x1="397.50" y1="36.93" x2="400.90" y2="36.93" stroke="#000" stroke-width="1.6" /><line x1="676.60" y1="36.93" x2="680.00" y2="36.93" stroke="#000" stroke-width="1.6" /><line x1="397.50" y1="177.42" x2="400.90" y2="177.42" stroke="#000" stroke-width="1.6" /><line x1="676.60" y1="177.42" x2="680.00" y2="177.42" stroke="#000" stroke-width="1.6" /><line x1="397.50" y1="27.55" x2="404.30" y2="27.55" stroke="#000" stroke-width="1.6" /><line x1="673.20" y1="27.55" x2="680.00" y2="27.55" stroke="#000" stroke-width="1.6" /><line x1="397.50" y1="168.10" x2="404.30" y2="168.10" stroke="#000" stroke-width="1.6" /><line x1="673.20" y1="168.10" x2="680.00" y2="168.10" stroke="#000" stroke-width="1.6" /><line x1="397.50" y1="18.17" x2="400.90" y2="18.17" stroke="#000" stroke-width="1.6" /><line x1="676.60" y1="18.17" x2="680.00" y2="18.17" stroke="#000" stroke-width="1.6" /><line x1="397.50" y1="158.78" x2="400.90" y2="158.78" stroke="#000" stroke-width="1.6" /><line x1="676.60" y1="158.78" x2="680.00" y2="158.78" stroke="#000" stroke-width="1.6" /><line x1="397.50" y1="8.79" x2="400.90" y2="8.79" stroke="#000" stroke-width="1.6" /><line x1="676.60" y1="8.79" x2="680.00" y2="8.79" stroke="#000" stroke-width="1.6" /><line x1="397.50" y1="149.46" x2="400.90" y2="149.46" stroke="#000" stroke-width="1.6" /><line x1="676.60" y1="149.46" x2="680.00" y2="149.46" stroke="#000" stroke-width="1.6" /><line x1="398.0" y1="55.5" x2="680.0" y2="55.5" stroke="#8cbd3c" stroke-width="1.25" stroke-dasharray="7.6 3.6" stroke-dashoffset="-1.0"/><line x1="398.0" y1="108.7" x2="680.0" y2="108.7" stroke="#2b93d6" stroke-width="1.25" stroke-dasharray="7.6 3.6" stroke-dashoffset="-1.0"/><line x1="398.0" y1="217.3" x2="680.0" y2="217.3" stroke="#8cbd3c" stroke-width="1.25" stroke-dasharray="7.6 3.6" stroke-dashoffset="-1.0"/><line x1="398.0" y1="248.3" x2="680.0" y2="248.3" stroke="#b0306e" stroke-width="1.25" stroke-dasharray="7.6 3.6" stroke-dashoffset="-1.0"/><line x1="437.86" y1="29.60" x2="437.86" y2="106.70" stroke="#77b41e" stroke-width="1.7" /><line x1="430.86" y1="29.60" x2="444.86" y2="29.60" stroke="#77b41e" stroke-width="1.7" /><line x1="430.86" y1="106.70" x2="444.86" y2="106.70" stroke="#77b41e" stroke-width="1.7" /><circle cx="437.86" cy="67.40" r="5.9" fill="#77b41e"/><line x1="478.21" y1="27.60" x2="478.21" y2="114.30" stroke="#77b41e" stroke-width="1.7" /><line x1="471.21" y1="27.60" x2="485.21" y2="27.60" stroke="#77b41e" stroke-width="1.7" /><line x1="471.21" y1="114.30" x2="485.21" y2="114.30" stroke="#77b41e" stroke-width="1.7" /><circle cx="478.21" cy="71.20" r="5.9" fill="#77b41e"/><line x1="518.57" y1="34.50" x2="518.57" y2="50.00" stroke="#77b41e" stroke-width="1.7" /><line x1="511.57" y1="34.50" x2="525.57" y2="34.50" stroke="#77b41e" stroke-width="1.7" /><line x1="511.57" y1="50.00" x2="525.57" y2="50.00" stroke="#77b41e" stroke-width="1.7" /><circle cx="518.57" cy="42.20" r="5.9" fill="#77b41e"/><line x1="558.93" y1="13.20" x2="558.93" y2="87.90" stroke="#77b41e" stroke-width="1.7" /><line x1="551.93" y1="13.20" x2="565.93" y2="13.20" stroke="#77b41e" stroke-width="1.7" /><line x1="551.93" y1="87.90" x2="565.93" y2="87.90" stroke="#77b41e" stroke-width="1.7" /><circle cx="558.93" cy="50.60" r="5.9" fill="#77b41e"/><line x1="599.29" y1="22.80" x2="599.29" y2="68.30" stroke="#77b41e" stroke-width="1.7" /><line x1="592.29" y1="22.80" x2="606.29" y2="22.80" stroke="#77b41e" stroke-width="1.7" /><line x1="592.29" y1="68.30" x2="606.29" y2="68.30" stroke="#77b41e" stroke-width="1.7" /><circle cx="599.29" cy="46.00" r="5.9" fill="#77b41e"/><line x1="639.64" y1="46.90" x2="639.64" y2="62.30" stroke="#77b41e" stroke-width="1.7" /><line x1="632.64" y1="46.90" x2="646.64" y2="46.90" stroke="#77b41e" stroke-width="1.7" /><line x1="632.64" y1="62.30" x2="646.64" y2="62.30" stroke="#77b41e" stroke-width="1.7" /><circle cx="639.64" cy="55.00" r="5.9" fill="#77b41e"/><line x1="437.86" y1="106.90" x2="437.86" y2="129.70" stroke="#1d8fdc" stroke-width="1.7" /><line x1="430.86" y1="106.90" x2="444.86" y2="106.90" stroke="#1d8fdc" stroke-width="1.7" /><line x1="430.86" y1="129.70" x2="444.86" y2="129.70" stroke="#1d8fdc" stroke-width="1.7" /><circle cx="437.86" cy="118.90" r="5.9" fill="#1d8fdc"/><line x1="478.21" y1="108.50" x2="478.21" y2="124.30" stroke="#1d8fdc" stroke-width="1.7" /><line x1="471.21" y1="108.50" x2="485.21" y2="108.50" stroke="#1d8fdc" stroke-width="1.7" /><line x1="471.21" y1="124.30" x2="485.21" y2="124.30" stroke="#1d8fdc" stroke-width="1.7" /><circle cx="478.21" cy="116.30" r="5.9" fill="#1d8fdc"/><line x1="518.57" y1="78.50" x2="518.57" y2="126.60" stroke="#1d8fdc" stroke-width="1.7" /><line x1="511.57" y1="78.50" x2="525.57" y2="78.50" stroke="#1d8fdc" stroke-width="1.7" /><line x1="511.57" y1="126.60" x2="525.57" y2="126.60" stroke="#1d8fdc" stroke-width="1.7" /><circle cx="518.57" cy="102.40" r="5.9" fill="#1d8fdc"/><line x1="558.93" y1="90.00" x2="558.93" y2="118.40" stroke="#1d8fdc" stroke-width="1.7" /><line x1="551.93" y1="90.00" x2="565.93" y2="90.00" stroke="#1d8fdc" stroke-width="1.7" /><line x1="551.93" y1="118.40" x2="565.93" y2="118.40" stroke="#1d8fdc" stroke-width="1.7" /><circle cx="558.93" cy="105.00" r="5.9" fill="#1d8fdc"/><line x1="599.29" y1="112.30" x2="599.29" y2="123.30" stroke="#1d8fdc" stroke-width="1.7" /><line x1="592.29" y1="112.30" x2="606.29" y2="112.30" stroke="#1d8fdc" stroke-width="1.7" /><line x1="592.29" y1="123.30" x2="606.29" y2="123.30" stroke="#1d8fdc" stroke-width="1.7" /><circle cx="599.29" cy="118.20" r="5.9" fill="#1d8fdc"/><line x1="639.64" y1="75.60" x2="639.64" y2="103.20" stroke="#1d8fdc" stroke-width="1.7" /><line x1="632.64" y1="75.60" x2="646.64" y2="75.60" stroke="#1d8fdc" stroke-width="1.7" /><line x1="632.64" y1="103.20" x2="646.64" y2="103.20" stroke="#1d8fdc" stroke-width="1.7" /><circle cx="639.64" cy="89.70" r="5.9" fill="#1d8fdc"/><line x1="437.86" y1="212.00" x2="437.86" y2="252.00" stroke="#77b41e" stroke-width="1.7" /><line x1="430.86" y1="212.00" x2="444.86" y2="212.00" stroke="#77b41e" stroke-width="1.7" /><line x1="430.86" y1="252.00" x2="444.86" y2="252.00" stroke="#77b41e" stroke-width="1.7" /><circle cx="437.86" cy="232.10" r="5.9" fill="#77b41e"/><line x1="478.21" y1="173.10" x2="478.21" y2="205.90" stroke="#77b41e" stroke-width="1.7" /><line x1="471.21" y1="173.10" x2="485.21" y2="173.10" stroke="#77b41e" stroke-width="1.7" /><line x1="471.21" y1="205.90" x2="485.21" y2="205.90" stroke="#77b41e" stroke-width="1.7" /><circle cx="478.21" cy="188.80" r="5.9" fill="#77b41e"/><line x1="518.57" y1="231.10" x2="518.57" y2="256.00" stroke="#77b41e" stroke-width="1.7" /><line x1="511.57" y1="231.10" x2="525.57" y2="231.10" stroke="#77b41e" stroke-width="1.7" /><line x1="511.57" y1="256.00" x2="525.57" y2="256.00" stroke="#77b41e" stroke-width="1.7" /><circle cx="518.57" cy="242.70" r="5.9" fill="#77b41e"/><line x1="558.93" y1="159.10" x2="558.93" y2="244.00" stroke="#77b41e" stroke-width="1.7" /><line x1="551.93" y1="159.10" x2="565.93" y2="159.10" stroke="#77b41e" stroke-width="1.7" /><line x1="551.93" y1="244.00" x2="565.93" y2="244.00" stroke="#77b41e" stroke-width="1.7" /><circle cx="558.93" cy="201.90" r="5.9" fill="#77b41e"/><line x1="599.29" y1="201.60" x2="599.29" y2="239.30" stroke="#77b41e" stroke-width="1.7" /><line x1="592.29" y1="201.60" x2="606.29" y2="201.60" stroke="#77b41e" stroke-width="1.7" /><line x1="592.29" y1="239.30" x2="606.29" y2="239.30" stroke="#77b41e" stroke-width="1.7" /><circle cx="599.29" cy="220.00" r="5.9" fill="#77b41e"/><line x1="437.86" y1="252.90" x2="437.86" y2="275.80" stroke="#c0166f" stroke-width="1.7" /><line x1="430.86" y1="252.90" x2="444.86" y2="252.90" stroke="#c0166f" stroke-width="1.7" /><line x1="430.86" y1="275.80" x2="444.86" y2="275.80" stroke="#c0166f" stroke-width="1.7" /><circle cx="437.86" cy="264.60" r="5.9" fill="#c0166f"/><line x1="478.21" y1="199.30" x2="478.21" y2="224.00" stroke="#c0166f" stroke-width="1.7" /><line x1="471.21" y1="199.30" x2="485.21" y2="199.30" stroke="#c0166f" stroke-width="1.7" /><line x1="471.21" y1="224.00" x2="485.21" y2="224.00" stroke="#c0166f" stroke-width="1.7" /><circle cx="478.21" cy="211.80" r="5.9" fill="#c0166f"/><line x1="518.57" y1="254.60" x2="518.57" y2="272.70" stroke="#c0166f" stroke-width="1.7" /><line x1="511.57" y1="254.60" x2="525.57" y2="254.60" stroke="#c0166f" stroke-width="1.7" /><line x1="511.57" y1="272.70" x2="525.57" y2="272.70" stroke="#c0166f" stroke-width="1.7" /><circle cx="518.57" cy="263.60" r="5.9" fill="#c0166f"/><line x1="558.93" y1="251.50" x2="558.93" y2="260.80" stroke="#c0166f" stroke-width="1.7" /><line x1="551.93" y1="251.50" x2="565.93" y2="251.50" stroke="#c0166f" stroke-width="1.7" /><line x1="551.93" y1="260.80" x2="565.93" y2="260.80" stroke="#c0166f" stroke-width="1.7" /><circle cx="558.93" cy="256.20" r="5.9" fill="#c0166f"/><line x1="599.29" y1="228.40" x2="599.29" y2="260.90" stroke="#c0166f" stroke-width="1.7" /><line x1="592.29" y1="228.40" x2="606.29" y2="228.40" stroke="#c0166f" stroke-width="1.7" /><line x1="592.29" y1="260.90" x2="606.29" y2="260.90" stroke="#c0166f" stroke-width="1.7" /><circle cx="599.29" cy="245.10" r="5.9" fill="#c0166f"/><text transform="translate(59.30,133.20) scale(0.85,1.1)" font-size="22" font-weight="bold" fill="#1d8fdc" stroke="#1d8fdc" stroke-width="0.45" text-anchor="start">B</text><text transform="translate(57.90,203.00) scale(1.0,1.1)" font-size="22" font-weight="bold" fill="#77b41e" stroke="#77b41e" stroke-width="0.45" text-anchor="start">SW</text><text transform="translate(198.10,135.20) scale(1.0,1.1)" font-size="22" font-weight="bold" fill="#be1670" stroke="#be1670" stroke-width="0.45" text-anchor="start">CaSW</text><text transform="translate(198.00,206.00) scale(1.0,1.1)" font-size="22" font-weight="bold" fill="#77b41e" stroke="#77b41e" stroke-width="0.45" text-anchor="start">SW</text><text transform="translate(402.90,54.00) scale(1.0,1.1)" font-size="22" font-weight="bold" fill="#77b41e" stroke="#77b41e" stroke-width="0.45" text-anchor="start">SW</text><text transform="translate(404.00,104.70) scale(0.85,1.1)" font-size="22" font-weight="bold" fill="#1d8fdc" stroke="#1d8fdc" stroke-width="0.45" text-anchor="start">B</text><text transform="translate(673.40,215.60) scale(1.0,1.1)" font-size="22" font-weight="bold" fill="#77b41e" stroke="#77b41e" stroke-width="0.45" text-anchor="end">SW</text><text transform="translate(673.40,243.80) scale(1.0,1.1)" font-size="22" font-weight="bold" fill="#be1670" stroke="#be1670" stroke-width="0.45" text-anchor="end">CaSW</text><text x="168.50" y="272.10" font-size="23" font-weight="bold" text-anchor="start" fill="#000" >a</text><text x="308.80" y="272.50" font-size="23" font-weight="bold" text-anchor="start" fill="#000" >b</text><text transform="translate(653.3,29.8) scale(0.88,1)" font-size="23" font-weight="bold">c</text><text x="652.80" y="171.10" font-size="23" font-weight="bold" text-anchor="start" fill="#000" >d</text><text x="60.85" y="309.60" font-size="16" font-weight="bold" text-anchor="middle" fill="#000" >400</text><text x="96.22" y="309.60" font-size="16" font-weight="bold" text-anchor="middle" fill="#000" >425</text><text x="131.60" y="309.60" font-size="16" font-weight="bold" text-anchor="middle" fill="#000" >450</text><text x="166.98" y="309.60" font-size="16" font-weight="bold" text-anchor="middle" fill="#000" >475</text><text x="202.38" y="309.60" font-size="16" font-weight="bold" text-anchor="middle" fill="#000" >400</text><text x="237.83" y="309.60" font-size="16" font-weight="bold" text-anchor="middle" fill="#000" >425</text><text x="273.28" y="309.60" font-size="16" font-weight="bold" text-anchor="middle" fill="#000" >450</text><text x="308.73" y="309.60" font-size="16" font-weight="bold" text-anchor="middle" fill="#000" >475</text><text x="38.00" y="79.80" font-size="16" font-weight="bold" text-anchor="end" fill="#000" >2</text><text x="38.00" y="221.10" font-size="16" font-weight="bold" text-anchor="end" fill="#000" >0</text><text x="397.50" y="308.20" font-size="16" font-weight="bold" text-anchor="middle" fill="#000" >0</text><text x="437.86" y="308.20" font-size="16" font-weight="bold" text-anchor="middle" fill="#000" >1</text><text x="478.21" y="308.20" font-size="16" font-weight="bold" text-anchor="middle" fill="#000" >2</text><text x="518.57" y="308.20" font-size="16" font-weight="bold" text-anchor="middle" fill="#000" >3</text><text x="558.93" y="308.20" font-size="16" font-weight="bold" text-anchor="middle" fill="#000" >4</text><text x="599.29" y="308.20" font-size="16" font-weight="bold" text-anchor="middle" fill="#000" >5</text><text x="639.64" y="308.20" font-size="16" font-weight="bold" text-anchor="middle" fill="#000" >6</text><text x="680.00" y="308.20" font-size="16" font-weight="bold" text-anchor="middle" fill="#000" >7</text><text x="388.80" y="127.15" font-size="16.4" font-weight="bold" text-anchor="end" fill="#000" >0.1</text><text x="388.80" y="267.10" font-size="16.4" font-weight="bold" text-anchor="end" fill="#000" >0.1</text><text x="388.80" y="80.25" font-size="16.4" font-weight="bold" text-anchor="end" fill="#000" >0.3</text><text x="388.80" y="220.50" font-size="16.4" font-weight="bold" text-anchor="end" fill="#000" >0.3</text><text x="388.80" y="33.35" font-size="16.4" font-weight="bold" text-anchor="end" fill="#000" >0.5</text><text x="388.80" y="173.90" font-size="16.4" font-weight="bold" text-anchor="end" fill="#000" >0.5</text><text x="117.45" y="339.60" font-size="16.7" font-weight="normal" text-anchor="middle" fill="#000" >Z (nm)</text><text x="259.10" y="339.60" font-size="16.7" font-weight="normal" text-anchor="middle" fill="#000" >Z (nm)</text><text x="538.75" y="338.00" font-size="16.9" font-weight="normal" text-anchor="middle" fill="#000" >Calcite Sample #</text><text transform="translate(14.2,143.7) rotate(-90)" font-size="17.1" text-anchor="middle" fill="#000">Force (nN)</text><text transform="translate(351.2,74.45) rotate(-90)" font-size="16.6" text-anchor="middle" fill="#000">Adhesion (nN)</text><text transform="translate(351.2,214.70) rotate(-90)" font-size="16.6" text-anchor="middle" fill="#000">Adhesion (nN)</text></svg>
</body></html>
